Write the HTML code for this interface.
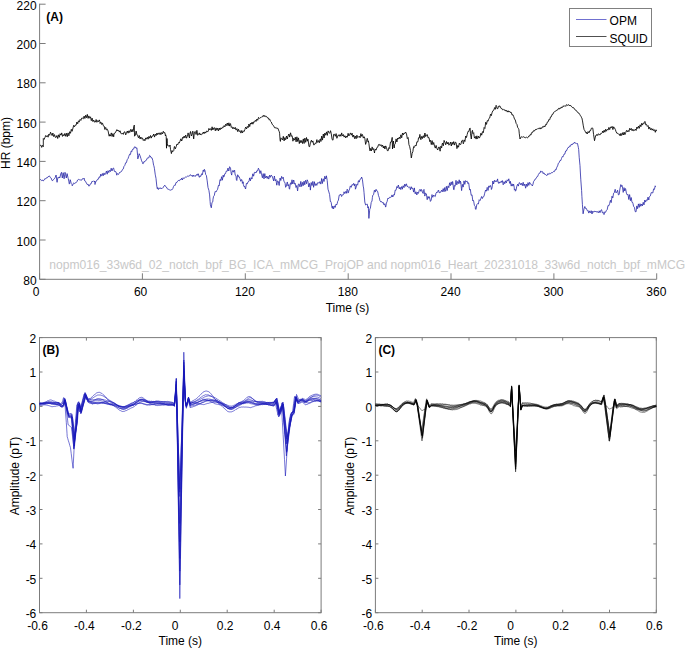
<!DOCTYPE html>
<html><head><meta charset="utf-8"><style>
html,body{margin:0;padding:0;background:#fff;}
svg{display:block;font-family:"Liberation Sans", sans-serif;}
</style></head><body>
<svg width="685" height="648" viewBox="0 0 685 648">
<rect width="685" height="648" fill="#fff"/>
<path d="M39.6 3.7V279.3H656.7" fill="none" stroke="#7c7c7c" stroke-width="1"/>
<text x="36.6" y="284.8" font-size="12" text-anchor="end" font-weight="normal" fill="#000" >80</text>
<text x="36.6" y="245.5" font-size="12" text-anchor="end" font-weight="normal" fill="#000" >100</text>
<text x="36.6" y="206.2" font-size="12" text-anchor="end" font-weight="normal" fill="#000" >120</text>
<text x="36.6" y="166.9" font-size="12" text-anchor="end" font-weight="normal" fill="#000" >140</text>
<text x="36.6" y="127.6" font-size="12" text-anchor="end" font-weight="normal" fill="#000" >160</text>
<text x="36.6" y="88.3" font-size="12" text-anchor="end" font-weight="normal" fill="#000" >180</text>
<text x="36.6" y="49.0" font-size="12" text-anchor="end" font-weight="normal" fill="#000" >200</text>
<text x="36.6" y="9.7" font-size="12" text-anchor="end" font-weight="normal" fill="#000" >220</text>
<text x="36.0" y="296.2" font-size="12" text-anchor="middle" font-weight="normal" fill="#000" >0</text>
<text x="140.6" y="296.2" font-size="12" text-anchor="middle" font-weight="normal" fill="#000" >60</text>
<text x="244.9" y="296.2" font-size="12" text-anchor="middle" font-weight="normal" fill="#000" >120</text>
<text x="347.8" y="296.2" font-size="12" text-anchor="middle" font-weight="normal" fill="#000" >180</text>
<text x="450.6" y="296.2" font-size="12" text-anchor="middle" font-weight="normal" fill="#000" >240</text>
<text x="553.5" y="296.2" font-size="12" text-anchor="middle" font-weight="normal" fill="#000" >300</text>
<text x="656.3" y="296.2" font-size="12" text-anchor="middle" font-weight="normal" fill="#000" >360</text>
<path d="M39.6 279.3h6M39.6 240.0h6M39.6 200.7h6M39.6 161.4h6M39.6 122.1h6M39.6 82.8h6M39.6 43.5h6M39.6 4.2h6M39.6 279.3v-6M142.4 279.3v-6M245.3 279.3v-6M348.2 279.3v-6M451.0 279.3v-6M553.9 279.3v-6M656.7 279.3v-6" stroke="#7c7c7c" stroke-width="1" fill="none"/>
<text x="347.5" y="311.5" font-size="12" text-anchor="middle" font-weight="normal" fill="#000" >Time (s)</text>
<text x="0" y="0" font-size="12" text-anchor="middle" font-weight="normal" fill="#000" transform="translate(10.2 143) rotate(-90)">HR (bpm)</text>
<text x="46.3" y="20.8" font-size="12" text-anchor="start" font-weight="bold" fill="#000" >(A)</text>
<text x="49.3" y="269.2" font-size="12.1" text-anchor="start" font-weight="normal" fill="#c8c8c8" >nopm016_33w6d_02_notch_bpf_BG_ICA_mMCG_ProjOP and nopm016_Heart_20231018_33w6d_notch_bpf_mMCG</text>
<rect x="569.5" y="8.5" width="82" height="38" fill="#fff" stroke="#808080" stroke-width="1"/>
<path d="M576 19.5h30.5" stroke="#7070d0" stroke-width="1"/>
<path d="M576 36.5h30.5" stroke="#505050" stroke-width="1"/>
<text x="609.6" y="25.4" font-size="12" text-anchor="start" font-weight="normal" fill="#000" >OPM</text>
<text x="609.6" y="42.6" font-size="12" text-anchor="start" font-weight="normal" fill="#000" >SQUID</text>
<path d="M40.0 179.7L40.8 179.6 41.6 180.6 42.4 180.0 43.1 181.0 44.0 180.3 44.8 178.7 45.3 178.8 45.6 179.0 46.4 177.8 47.2 177.9 48.0 176.6 48.8 176.6 49.2 175.8 49.6 176.2 50.4 177.6 51.2 178.1 52.0 180.5 52.7 180.6 53.6 179.4 54.4 178.8 55.2 177.5 56.0 175.0 56.2 175.3 56.8 180.9 57.1 182.3 57.6 179.0 58.0 177.5 58.4 178.1 59.2 176.9 59.7 178.0 60.0 177.2 60.8 173.6 61.5 172.3 62.3 178.0 63.2 172.7 64.1 178.8 64.8 174.1 65.0 172.3 65.6 174.7 66.3 178.0 67.1 173.6 68.0 177.7 68.2 178.4 68.8 181.1 69.3 184.1 69.6 183.5 70.2 179.7 70.4 180.0 71.2 183.4 72.0 184.5 72.2 185.8 72.8 185.0 73.3 183.6 73.6 182.9 74.4 183.5 75.0 183.2 75.2 182.9 76.0 182.8 76.8 181.9 77.6 180.0 78.5 179.3 79.2 180.0 80.0 179.5 80.7 180.1 81.6 180.2 82.4 178.7 83.2 179.1 83.8 178.4 84.0 178.0 84.8 181.0 85.6 181.4 86.4 183.2 87.2 184.5 88.0 184.0 88.8 186.1 89.5 185.8 90.4 183.8 91.2 183.7 92.0 181.2 92.5 181.5 92.8 181.6 93.6 180.8 94.4 181.8 94.7 181.0 95.0 184.5 95.2 183.6 96.0 181.0 96.8 180.7 97.6 179.2 98.4 179.2 99.2 176.8 100.0 177.4 100.8 174.1 101.1 175.6 101.6 176.1 102.4 173.5 103.2 175.8 104.0 172.9 104.8 174.8 105.7 173.3 106.4 171.1 107.2 174.2 108.0 170.7 108.8 172.6 109.2 170.9 109.6 170.3 110.4 171.6 111.2 168.2 112.0 171.0 112.7 168.6 113.6 168.0 114.4 171.4 115.1 171.5 116.0 171.8 116.8 175.2 117.0 174.1 117.6 173.6 118.4 174.5 119.3 173.0 120.0 172.0 120.8 172.1 121.7 171.2 122.4 169.6 123.2 169.1 124.0 166.3 124.8 165.4 125.2 164.2 125.6 162.8 126.4 162.7 127.2 159.7 128.0 158.7 128.7 156.6 129.6 154.2 130.4 154.6 131.2 151.0 132.0 151.6 132.2 150.2 132.8 149.1 133.6 149.1 134.4 147.0 135.1 146.7 136.0 148.3 136.9 147.8 137.6 155.3 137.8 158.9 138.4 157.0 139.2 153.7 140.0 155.6 140.9 158.4 141.6 160.8 142.4 162.4 142.7 163.6 143.2 163.7 144.0 161.5 144.8 161.9 145.0 161.3 145.6 160.5 146.4 160.2 147.2 158.2 148.0 157.8 148.8 157.9 149.6 155.4 150.3 156.0 151.2 157.8 152.0 157.8 152.8 160.5 153.6 165.3 153.8 165.4 154.4 168.3 155.2 174.2 155.5 175.9 156.0 178.4 156.8 186.1 157.3 188.7 157.6 187.6 158.4 189.5 159.2 187.8 160.0 188.7 160.2 188.1 160.8 187.9 161.6 188.9 162.4 187.9 162.6 188.1 163.2 187.5 164.0 186.0 164.9 185.2 165.6 186.6 166.4 187.0 167.2 188.7 168.0 189.3 168.8 189.4 169.6 189.9 170.4 190.2 171.2 189.7 171.9 189.9 172.8 188.6 173.6 186.4 174.4 185.2 175.2 185.4 176.0 182.5 176.8 182.5 177.7 181.1 178.4 180.4 179.2 180.9 180.0 179.5 180.8 179.8 181.2 179.4 181.6 178.2 182.4 180.0 183.2 177.7 184.0 178.6 184.7 177.6 185.6 177.0 186.4 177.1 187.1 176.5 188.0 175.7 188.8 176.4 189.7 175.7 190.4 174.6 191.2 175.9 192.0 175.4 192.6 175.5 192.8 176.7 193.6 175.1 194.4 176.3 195.2 175.5 195.5 176.3 196.0 175.9 196.8 174.3 197.6 175.3 197.8 173.9 198.4 173.9 199.2 177.3 199.6 177.1 200.0 175.8 200.8 176.4 201.6 173.8 201.9 173.9 202.4 174.7 203.2 170.1 204.0 171.6 204.3 169.3 204.8 170.0 205.4 172.8 205.6 174.4 206.4 175.5 207.2 180.9 208.0 187.5 208.9 190.3 209.6 194.9 210.1 201.4 210.4 204.8 211.3 207.8 212.0 202.4 212.8 201.8 213.0 199.1 213.6 196.3 214.4 195.3 214.8 192.6 215.2 191.4 216.0 192.1 216.5 191.5 216.8 190.4 217.6 189.3 218.4 185.6 218.9 185.0 219.2 185.7 220.0 179.5 220.6 179.8 220.8 180.7 221.6 176.7 222.4 180.2 223.2 175.1 223.5 176.9 224.0 176.9 224.8 173.7 225.6 173.5 225.9 172.2 226.4 171.0 227.2 171.2 228.0 168.1 228.2 169.3 228.8 171.0 229.6 166.7 230.5 168.1 231.2 173.4 231.7 175.1 232.0 172.4 232.9 170.4 233.6 172.2 234.4 170.0 234.6 170.4 235.2 175.1 236.0 175.7 236.4 179.8 236.8 180.5 237.6 174.8 238.1 175.1 238.4 176.8 239.2 176.7 239.9 178.6 240.8 181.3 241.6 179.5 242.2 181.0 242.4 183.4 243.2 181.8 243.4 184.5 244.0 186.7 244.8 186.4 245.1 188.0 245.6 189.0 246.4 183.4 246.9 183.9 247.2 184.0 248.0 181.8 248.8 181.5 249.2 180.4 249.6 177.9 250.4 180.8 251.2 177.6 252.0 179.0 252.2 176.9 252.8 173.8 253.6 176.2 254.4 172.4 255.1 172.2 256.0 173.0 256.8 170.8 257.6 171.0 258.4 168.2 259.2 169.9 260.0 173.6 260.8 170.7 261.5 173.9 262.4 177.8 263.2 173.6 264.0 178.9 264.8 173.6 265.3 176.9 265.6 177.9 266.4 176.0 267.2 178.5 268.0 176.3 268.2 177.4 268.8 179.1 269.6 175.2 270.4 177.3 271.1 175.1 272.0 175.9 272.8 178.0 273.6 180.9 274.4 176.0 274.6 177.4 275.2 180.9 276.0 179.4 276.4 182.7 276.8 185.2 277.5 180.9 278.4 181.5 278.7 183.9 279.2 185.5 280.0 178.0 280.4 178.6 280.8 180.5 281.6 176.4 282.4 178.5 282.8 178.0 283.2 177.2 284.0 181.7 284.8 182.3 285.1 183.3 285.6 187.3 286.3 186.2 287.2 182.0 287.4 182.1 288.0 186.0 288.8 184.5 289.2 188.5 289.6 189.2 290.4 183.1 290.9 182.7 291.2 184.4 292.0 179.8 292.8 184.0 293.6 180.0 293.9 180.4 294.4 184.0 295.0 183.9 295.2 183.3 296.0 187.5 296.8 185.5 297.4 189.7 297.6 190.9 298.4 184.2 299.1 183.9 300.0 186.9 300.8 181.4 301.6 186.5 302.0 185.0 302.4 182.4 303.2 185.7 304.0 181.2 304.8 184.8 305.0 182.1 305.6 180.3 306.4 183.8 307.2 179.8 307.9 181.5 308.8 187.0 309.6 183.4 310.2 187.4 310.4 190.1 311.2 182.5 312.0 185.5 312.6 183.3 312.8 181.4 313.6 187.3 314.4 181.7 314.9 185.0 315.2 185.6 316.0 183.6 316.8 185.4 317.6 182.7 318.4 182.7 319.2 183.4 320.0 181.5 320.8 184.1 321.3 181.5 321.6 178.5 322.4 183.5 323.2 178.8 323.6 179.2 324.0 181.5 324.8 176.2 325.6 179.0 326.0 178.0 326.4 175.8 327.2 180.4 328.0 189.2 328.9 192.0 329.6 194.6 330.4 201.7 330.7 201.4 331.2 202.5 332.0 207.8 332.4 208.4 332.8 206.0 333.6 208.9 334.4 205.9 334.7 206.1 335.0 206.7 335.2 207.4 336.0 204.1 336.8 204.8 337.3 203.2 337.6 201.6 338.4 200.2 339.2 195.2 339.7 195.0 340.0 195.3 340.8 194.1 341.6 196.5 342.0 195.6 342.4 194.9 343.2 194.9 343.8 193.3 344.0 191.8 344.8 193.6 345.6 191.6 346.1 191.5 346.4 193.3 347.2 189.2 347.8 190.4 348.0 193.1 348.4 192.7 348.8 190.9 349.6 189.1 350.2 186.3 350.4 185.9 351.2 187.3 352.0 184.5 352.8 185.1 353.1 184.5 353.6 183.4 354.4 185.9 354.9 183.9 355.2 185.4 355.4 189.2 356.0 187.8 356.6 185.1 356.8 184.3 357.6 185.2 358.4 180.7 358.9 181.0 359.2 182.1 360.0 179.3 360.8 179.0 361.3 178.1 361.6 177.0 362.4 179.3 363.2 186.1 363.6 188.0 364.0 192.3 364.8 202.0 365.6 205.0 366.5 204.4 367.2 204.0 368.0 208.0 368.3 206.7 368.9 218.4 369.6 210.8 369.8 209.1 370.4 208.1 371.2 202.5 372.0 201.0 372.4 197.4 372.8 195.2 373.6 194.6 374.4 190.1 374.7 190.4 375.2 192.1 376.0 189.3 376.5 189.8 376.8 191.0 377.6 191.3 378.2 193.9 378.4 195.3 379.2 197.4 380.0 200.9 380.8 201.9 381.6 201.5 382.4 202.9 382.9 202.6 383.2 202.3 384.0 204.9 384.8 203.7 385.6 207.1 385.8 206.7 386.4 203.1 387.2 201.3 387.6 199.1 388.0 198.0 388.8 198.6 389.6 197.3 390.5 197.4 391.2 197.1 392.0 194.9 392.8 197.0 393.6 194.7 394.0 195.0 394.4 195.0 395.2 190.1 396.0 190.3 396.3 189.2 396.8 186.6 397.6 187.7 398.1 185.7 398.4 185.0 399.2 188.9 399.8 188.0 400.0 187.2 400.8 189.6 401.0 188.6 401.6 186.6 402.4 189.2 402.7 186.9 403.2 185.7 404.0 187.7 404.8 184.0 405.6 186.3 406.2 184.5 406.4 183.8 407.2 186.5 408.0 186.4 408.6 187.4 408.8 187.8 409.6 187.1 410.0 187.4 410.4 189.8 411.2 186.7 412.0 188.7 412.3 188.0 412.8 188.1 413.6 192.1 414.4 187.9 414.7 190.9 415.2 193.8 416.0 191.8 416.8 195.0 417.0 194.4 417.6 192.2 418.4 193.4 419.3 190.3 420.0 189.3 420.8 191.3 421.1 189.7 421.6 189.6 422.3 192.0 423.2 193.5 423.4 190.3 424.0 189.4 424.6 194.4 424.8 196.1 425.6 193.1 426.4 193.8 427.2 199.7 427.5 197.9 428.0 196.4 428.8 198.3 429.3 196.7 429.6 197.7 430.4 201.4 431.2 200.1 432.0 194.6 432.2 195.5 432.8 197.3 433.6 195.0 434.5 196.1 435.2 196.6 436.0 193.2 436.9 192.0 437.6 192.3 438.4 190.0 438.6 190.3 439.2 192.8 439.8 192.6 440.0 192.0 440.8 192.2 441.6 190.1 442.1 190.9 442.4 191.7 443.2 188.6 444.0 191.8 444.8 187.5 445.0 189.7 445.6 191.3 446.4 186.3 447.2 190.6 448.0 185.9 448.5 186.8 448.8 187.7 449.6 182.8 450.4 185.7 451.2 181.9 451.5 183.9 452.0 184.8 452.6 181.5 452.8 182.2 453.6 189.5 454.1 189.7 454.4 185.5 455.2 186.2 455.5 182.7 456.0 180.3 456.8 184.9 457.6 181.5 457.9 182.1 458.4 183.6 459.2 179.8 460.0 183.6 460.2 181.0 460.8 182.3 461.4 188.5 461.6 190.6 462.4 184.4 463.2 187.1 463.7 183.3 464.0 180.9 464.8 184.4 465.6 180.6 466.1 181.0 466.4 181.6 467.2 181.2 468.0 183.7 468.4 182.7 468.8 183.7 469.6 190.1 470.4 189.3 470.7 192.0 471.2 195.3 472.0 194.8 472.8 200.9 473.1 200.2 473.6 200.8 474.4 205.4 475.2 206.3 475.4 209.0 476.0 209.5 476.8 204.4 477.7 203.7 478.4 204.0 479.2 199.7 480.0 200.6 480.7 199.1 481.6 196.5 482.4 198.5 483.2 196.6 483.6 196.7 484.0 196.2 484.7 193.2 485.6 190.0 486.4 191.2 487.2 187.4 487.7 188.5 488.0 190.5 488.8 185.9 489.6 187.3 490.3 185.4 491.2 187.5 491.4 189.5 492.0 188.0 492.6 183.0 492.8 181.0 493.6 184.0 494.4 180.3 495.2 181.9 495.5 181.3 496.0 180.6 496.8 181.7 497.6 178.9 497.8 180.7 498.4 183.0 499.0 183.6 499.2 181.9 500.0 182.9 500.8 181.5 501.4 181.3 501.6 182.3 502.4 180.6 503.2 184.8 503.7 183.6 504.0 181.7 504.8 183.7 505.6 180.8 506.0 181.9 506.4 182.8 507.2 179.8 508.0 180.9 508.4 180.1 508.8 178.8 509.6 183.2 510.1 183.6 510.4 181.3 511.2 186.1 512.0 183.8 512.4 184.2 512.8 186.1 513.6 184.1 514.2 187.1 514.4 190.1 515.2 189.3 515.4 191.2 516.0 190.2 516.8 186.2 517.7 184.2 518.4 186.1 519.2 182.7 520.0 183.0 520.8 184.9 521.6 183.3 522.4 185.6 523.2 182.3 523.5 184.8 524.0 185.8 524.8 184.0 525.6 188.2 525.9 187.1 526.4 184.1 527.2 186.5 528.0 182.6 528.2 183.0 528.8 185.4 529.6 182.3 530.4 184.0 531.1 184.2 532.0 185.5 532.3 186.0 532.8 184.9 533.6 181.5 534.0 180.7 534.4 180.6 535.2 179.0 536.0 178.7 536.4 177.8 536.8 176.8 537.6 176.6 538.4 174.5 539.3 173.1 540.0 173.1 540.8 170.9 541.1 171.4 541.6 172.0 542.4 171.5 543.2 173.6 543.4 173.1 544.0 172.8 544.8 174.5 545.6 174.5 546.3 175.4 547.2 175.3 548.0 173.5 548.8 174.5 549.2 173.7 549.6 173.2 550.4 173.7 551.2 172.7 552.0 172.9 552.7 172.5 553.6 171.4 554.4 171.6 555.2 169.7 556.0 170.0 556.2 169.0 556.8 167.3 557.6 165.9 558.4 163.2 558.6 163.2 559.2 162.5 560.0 160.5 560.8 160.5 561.5 158.5 562.4 156.4 563.2 156.7 563.6 155.4 564.0 154.1 564.8 154.1 565.6 151.0 566.4 151.0 567.3 148.9 568.0 147.5 568.8 147.5 569.6 145.9 570.4 146.3 571.2 144.3 571.7 144.5 572.0 145.0 572.8 143.6 573.6 143.6 574.4 142.3 574.6 143.0 575.2 143.3 576.0 142.8 576.8 143.7 577.5 143.5 578.4 147.7 578.7 149.6 579.2 157.2 580.0 165.7 580.4 173.0 580.8 179.8 581.6 190.4 581.9 196.3 582.4 204.3 583.1 213.8 584.0 208.9 584.8 206.5 585.6 208.5 586.4 208.5 587.2 210.6 587.7 210.9 588.0 210.5 588.8 213.1 589.6 210.9 590.4 212.8 590.7 212.4 591.2 210.7 592.0 214.0 592.8 211.1 593.6 212.3 594.4 211.2 595.0 211.6 595.2 212.0 596.0 211.1 596.8 212.3 597.6 211.6 598.4 212.9 598.7 212.4 599.2 210.8 600.0 212.7 600.9 210.2 601.6 209.7 602.4 212.9 603.2 212.2 603.8 213.8 604.0 214.6 604.8 211.8 605.6 212.3 606.4 210.3 606.7 210.2 607.2 209.7 608.0 205.5 608.8 205.8 609.6 203.6 610.4 200.3 611.2 202.6 612.0 196.2 612.6 197.8 612.8 198.0 613.6 193.2 614.4 192.6 614.7 190.5 615.2 189.3 616.0 192.9 616.9 191.9 617.6 190.2 618.4 194.9 619.2 194.5 619.9 189.0 620.8 184.6 621.6 186.5 622.0 185.4 622.4 186.5 623.2 192.4 623.5 191.2 624.0 187.6 624.8 191.0 625.0 189.0 625.6 188.6 626.4 193.1 627.2 194.9 628.0 194.3 628.8 199.5 629.6 194.6 630.1 197.8 630.4 200.7 631.2 197.5 632.0 202.4 632.8 202.7 633.0 203.6 633.6 206.4 634.4 207.2 635.2 211.6 636.0 211.9 636.8 205.9 637.6 208.7 638.1 205.8 638.4 203.9 639.2 207.4 640.0 203.7 640.8 206.3 641.6 204.0 641.8 204.3 642.4 205.9 643.2 202.3 644.0 204.9 644.8 200.0 645.6 202.1 646.1 200.7 646.4 199.9 647.2 200.5 648.0 197.1 648.8 200.0 649.1 197.8 649.6 196.4 650.4 195.9 651.2 192.6 652.0 192.7 652.8 193.0 653.6 188.9 654.4 189.5 655.2 185.8 655.6 186.8" fill="none" stroke="#2626a6" stroke-width="0.8" stroke-linejoin="round"/>
<path d="M40.1 145.5L40.9 145.1 41.7 147.4 42.5 145.4 43.3 146.7 43.3 138.5 44.1 139.4 45.0 137.4 45.7 135.5 46.5 136.7 47.3 135.6 48.1 137.2 48.5 135.0 48.9 134.1 49.7 135.3 50.5 132.2 51.4 134.1 52.1 135.6 52.9 133.0 53.2 135.0 53.7 136.6 54.5 134.6 55.3 137.3 56.1 137.4 56.9 135.5 57.7 138.5 58.5 134.8 59.3 137.3 60.1 133.7 60.9 135.1 61.4 134.5 61.7 132.9 62.5 136.4 63.3 134.6 63.7 135.6 64.1 135.8 64.9 133.4 65.7 136.3 66.5 133.3 67.3 136.7 68.1 132.9 68.4 134.5 68.9 135.8 69.7 131.7 70.1 132.1 70.5 133.3 71.3 129.3 72.1 131.3 73.0 128.0 73.7 125.3 74.5 126.8 75.3 125.1 76.1 125.2 76.9 122.0 77.7 123.8 78.5 120.8 78.9 121.6 79.3 121.9 80.1 119.4 80.9 120.4 81.7 118.1 82.4 118.1 83.3 118.8 84.1 116.1 84.9 118.5 85.7 115.2 86.5 117.7 87.0 115.8 87.3 114.4 88.1 118.4 88.9 115.9 89.4 117.5 89.7 118.2 90.5 116.8 91.3 120.7 91.7 119.3 92.1 118.1 92.9 121.6 93.7 120.0 94.6 122.2 95.3 122.0 95.8 121.0 96.1 119.5 96.9 122.3 97.7 120.6 98.5 121.7 99.3 119.9 99.9 121.6 100.1 123.5 100.9 122.1 101.7 124.5 102.2 123.4 102.5 123.1 103.3 125.7 104.1 126.0 104.9 129.5 105.2 128.6 105.7 127.4 106.5 129.9 107.3 129.2 108.1 131.0 108.9 135.0 109.2 136.2 109.7 134.5 110.5 136.1 111.3 132.9 111.6 134.5 112.1 136.5 112.9 133.6 113.7 136.8 113.9 134.8 114.5 133.1 115.3 132.8 116.2 131.0 116.9 129.6 117.7 131.0 118.5 130.1 118.8 130.6 119.3 132.1 120.1 130.8 120.9 133.5 121.7 133.9 122.5 133.0 123.3 134.4 124.0 132.1 124.9 131.8 125.7 134.9 126.4 133.3 127.3 131.0 128.1 133.2 128.9 130.8 129.7 132.5 130.5 129.5 131.0 130.6 131.3 131.8 132.1 129.3 132.9 131.8 133.4 130.4 133.7 126.7 134.3 125.1 134.5 136.2 135.3 135.2 136.1 131.0 136.3 131.5 136.9 134.9 137.7 135.2 138.0 136.8 138.5 137.8 139.3 135.5 140.1 139.0 140.9 137.0 141.5 138.5 141.7 138.8 142.5 138.0 143.3 140.5 144.1 139.3 144.5 139.7 144.9 140.8 145.7 137.9 146.5 139.2 147.3 137.2 148.1 139.2 148.5 138.0 148.9 136.4 149.7 138.2 150.5 135.5 151.3 138.1 152.1 135.9 152.9 136.1 153.2 135.6 153.7 134.0 154.5 137.1 155.3 134.2 156.1 135.6 156.9 133.0 157.7 134.7 157.9 133.9 158.5 132.9 159.3 134.4 160.1 132.7 160.9 134.7 161.4 133.3 161.7 132.5 162.5 134.0 163.3 131.3 164.1 133.0 164.9 132.6 165.4 135.8 165.7 134.8 166.2 136.4 166.5 148.2 167.0 138.5 167.3 143.5 167.6 145.5 168.1 145.2 168.9 146.6 169.7 146.0 170.0 145.0 170.5 149.3 171.4 153.6 172.1 150.5 172.4 151.5 172.9 151.7 173.8 150.4 174.3 146.6 174.5 146.5 175.1 148.2 175.3 148.9 176.2 146.6 176.9 144.1 177.7 144.9 178.5 142.6 179.3 143.0 180.0 141.2 180.9 138.8 181.7 141.0 182.2 139.6 182.5 137.4 183.3 138.2 183.8 136.9 184.1 136.0 184.9 137.9 185.4 136.4 185.7 135.1 186.5 138.2 187.3 136.4 187.6 134.4 188.1 132.9 188.5 133.9 188.9 136.4 189.5 138.0 189.7 134.4 190.5 131.5 191.4 136.0 192.1 134.1 192.4 131.8 192.9 131.1 193.4 137.0 193.7 138.9 194.4 132.1 195.3 131.5 195.5 132.7 196.1 134.5 196.9 130.3 197.7 135.3 198.4 134.5 199.3 132.9 200.1 135.0 200.9 133.7 201.7 134.7 202.5 133.9 203.3 132.0 204.1 133.7 204.9 131.9 205.7 133.1 206.5 131.0 207.2 131.5 208.1 131.6 208.9 128.4 209.7 129.8 210.1 129.0 210.5 128.7 211.3 130.4 212.1 126.8 212.9 130.0 213.6 128.0 214.5 127.7 215.3 130.8 216.1 127.9 216.5 129.8 216.9 130.3 217.7 128.2 218.5 130.9 219.3 128.0 219.5 129.2 220.1 129.9 220.9 127.8 221.7 128.8 222.5 127.1 223.3 127.5 223.5 127.1 224.1 125.6 224.9 126.9 225.7 124.2 226.5 125.5 227.3 123.0 227.6 124.5 228.1 125.8 228.9 122.8 229.7 126.1 230.0 124.5 230.5 123.6 231.3 127.4 231.7 126.9 232.1 126.9 232.9 128.9 233.7 127.4 234.5 128.9 235.3 127.4 236.1 130.1 236.4 129.2 236.9 128.6 237.7 131.6 238.5 129.2 239.3 131.6 240.1 130.7 240.5 131.5 240.9 133.1 241.7 130.5 242.5 132.9 243.3 130.8 244.0 131.5 244.9 129.6 245.1 128.6 245.7 127.1 246.5 129.0 247.3 126.4 248.1 127.7 248.6 125.9 248.9 124.0 249.7 126.6 250.5 123.0 251.3 124.1 252.1 122.1 252.9 124.2 253.7 121.8 254.5 122.1 255.1 121.0 255.3 120.3 256.1 121.4 256.9 119.0 257.7 120.3 258.5 117.4 259.3 118.5 259.7 118.1 260.1 117.7 260.9 117.7 261.7 116.8 262.5 116.8 263.3 115.3 264.1 116.7 264.7 115.5 264.9 115.5 265.7 116.7 266.5 116.4 267.0 117.1 267.3 117.8 268.1 117.7 268.9 119.6 269.7 119.0 269.9 119.8 270.5 121.3 271.3 122.0 272.1 124.1 272.8 125.0 273.7 125.9 274.5 127.7 275.2 128.0 276.1 127.4 276.9 128.7 277.7 128.3 278.1 128.5 278.5 130.0 279.3 131.8 279.6 133.2 280.1 140.3 280.4 141.4 280.9 137.8 281.6 138.5 282.5 140.0 283.3 136.3 284.1 140.9 284.9 137.6 285.1 139.1 285.7 139.8 286.5 136.0 287.3 139.0 288.0 136.1 288.9 134.0 289.7 137.1 290.5 132.8 290.9 134.1 291.3 136.2 292.1 135.7 292.7 139.1 292.9 141.2 293.7 138.3 294.5 140.1 295.0 138.5 295.3 137.2 296.1 141.9 296.9 136.8 297.7 141.5 298.5 137.9 299.3 143.6 299.7 141.4 300.1 140.3 300.9 142.8 301.7 140.5 302.5 143.5 303.3 138.9 304.1 143.5 304.4 140.8 304.9 138.1 305.7 142.3 306.5 137.5 307.3 141.2 307.9 139.1 308.1 139.9 309.0 146.6 309.7 146.6 310.5 142.3 311.4 140.2 312.1 142.3 312.9 140.9 313.7 144.9 314.5 144.7 315.3 143.0 316.1 143.5 316.9 139.6 317.2 142.0 317.7 142.4 318.5 140.6 319.3 142.8 320.1 139.0 320.7 139.1 320.9 141.5 321.7 136.1 322.5 140.1 323.3 134.0 324.1 138.0 324.9 133.0 325.4 135.0 325.7 135.2 326.5 131.9 327.3 135.4 328.1 130.9 328.9 132.6 329.7 133.4 330.5 130.7 331.2 133.2 332.1 139.5 333.0 140.2 333.6 134.4 334.5 134.3 335.3 136.3 336.1 133.6 336.9 138.3 337.7 136.1 338.5 134.8 339.3 136.3 340.1 134.5 340.9 136.3 341.7 132.9 342.0 134.5 342.5 135.9 343.3 134.5 344.1 137.1 344.9 135.7 345.5 137.1 345.7 138.0 346.5 136.1 347.3 137.2 348.1 133.3 348.9 136.0 349.6 134.5 350.5 132.9 351.3 135.2 352.1 133.2 352.5 134.8 352.9 137.1 353.7 135.0 354.3 137.4 354.5 138.6 355.3 136.1 356.1 138.8 356.9 135.2 357.7 137.7 358.4 137.1 359.3 136.2 360.1 137.8 360.9 133.6 361.7 136.4 361.9 135.0 362.5 134.5 363.3 138.1 364.1 136.7 364.8 138.0 365.6 144.4 366.5 141.6 367.1 138.5 367.3 138.3 368.1 141.9 368.3 140.9 368.9 143.6 369.7 149.7 370.0 150.8 370.5 148.5 371.3 151.0 372.1 146.9 372.4 147.3 372.9 149.8 373.7 148.6 374.5 153.0 374.7 151.4 375.3 149.1 376.1 150.1 376.9 147.5 377.7 147.2 378.5 144.6 379.4 144.4 380.1 145.7 380.9 144.6 381.7 146.5 382.5 145.0 382.9 146.1 383.3 148.0 384.1 146.0 384.9 149.0 385.7 145.9 386.4 147.3 387.3 150.6 388.1 150.8 388.9 147.6 389.7 148.5 389.9 146.1 390.5 142.0 391.3 142.1 392.2 137.4 392.5 149.0 392.9 144.6 393.5 141.0 393.7 144.6 394.2 148.0 394.5 144.7 395.3 143.8 395.7 140.9 396.1 138.9 396.9 142.0 397.7 138.0 398.5 139.1 399.3 137.1 400.1 138.7 400.4 136.8 400.9 134.8 401.7 137.8 402.5 133.0 403.3 134.9 404.1 132.9 404.9 133.5 405.7 132.1 406.5 133.9 407.3 138.6 408.1 137.5 408.6 140.9 408.9 144.5 409.7 146.7 410.5 150.6 411.3 158.0 411.5 157.2 412.1 153.5 412.9 151.5 413.2 149.0 413.7 146.5 414.5 147.3 414.7 146.6 415.3 145.1 416.1 145.9 416.9 141.8 417.7 142.0 418.2 140.2 418.5 137.8 419.3 138.0 419.9 134.4 420.1 135.6 420.5 139.0 420.9 139.7 421.7 136.4 422.5 138.5 422.8 136.7 423.3 135.7 424.1 137.8 424.9 133.0 425.7 136.6 426.4 135.0 427.3 134.6 428.1 137.9 428.9 137.5 429.3 139.0 429.7 141.6 430.5 140.3 431.3 144.6 431.6 142.6 432.1 140.6 432.9 144.7 433.7 142.5 434.5 146.1 435.3 148.1 436.1 145.4 436.9 148.4 437.7 150.0 438.6 147.2 439.3 147.1 440.1 151.2 440.4 149.6 440.9 146.1 441.7 147.9 442.1 144.3 442.5 143.1 443.3 145.8 444.1 140.4 445.0 142.6 445.7 144.8 446.5 141.5 447.3 144.0 448.1 142.2 448.9 145.2 449.7 144.3 450.5 142.1 451.3 146.0 452.1 142.2 452.9 144.5 453.2 143.7 453.7 141.6 454.5 145.1 455.3 142.2 456.1 142.6 456.9 148.6 457.3 147.8 457.7 145.5 458.5 147.2 459.3 143.2 460.2 144.9 460.9 144.2 461.7 140.8 462.6 140.2 463.3 143.8 463.7 142.6 464.1 139.9 464.9 141.5 465.7 136.0 466.5 137.5 467.2 134.4 468.1 131.3 468.9 131.4 469.7 128.4 470.1 128.0 470.5 133.8 471.3 139.0 472.1 131.0 472.5 130.3 472.9 133.5 473.7 132.7 474.2 136.7 474.5 138.1 475.3 136.4 476.1 139.1 476.9 135.8 477.2 138.5 477.7 138.6 478.5 136.1 479.3 138.1 480.1 136.7 480.9 133.2 481.7 135.2 482.5 131.6 483.3 132.7 483.6 130.9 484.1 127.5 484.9 128.5 485.7 122.2 485.9 122.7 486.5 124.4 487.3 120.6 488.1 121.2 488.5 119.8 488.9 118.5 489.7 118.0 490.5 114.2 491.3 115.7 492.0 112.8 492.9 110.7 493.7 110.3 494.3 108.7 494.5 107.6 495.3 109.3 496.1 105.3 496.7 106.4 496.9 108.4 497.8 108.7 498.5 106.3 499.3 106.7 499.6 105.8 500.1 106.2 500.9 108.1 501.4 108.7 501.7 108.3 502.5 109.8 503.3 109.4 504.1 110.3 504.9 109.7 505.7 111.0 506.0 111.0 506.5 110.4 507.3 112.1 508.1 110.7 508.9 112.1 509.7 111.4 510.5 112.7 510.7 112.2 511.3 112.4 512.1 115.1 512.9 114.7 513.6 116.3 514.5 119.0 515.3 120.0 516.1 123.3 516.5 123.9 516.9 124.3 517.7 127.5 518.5 128.6 518.9 129.7 519.3 133.8 520.0 139.0 520.9 137.2 521.8 136.7 522.5 137.3 523.3 136.5 524.1 137.6 524.7 137.3 524.9 137.1 525.7 137.8 526.5 137.2 527.3 137.8 528.2 137.3 528.9 135.9 529.7 136.0 530.5 134.1 531.3 134.5 531.7 133.2 532.1 132.0 532.9 132.2 533.7 130.5 534.5 131.0 535.2 129.7 536.1 129.3 536.9 129.5 537.7 128.6 538.5 128.7 538.7 128.5 539.3 127.8 540.1 129.1 540.9 127.7 541.1 128.0 541.7 128.5 542.5 126.7 543.3 127.2 544.1 125.9 544.9 126.9 545.1 126.2 545.7 124.4 546.5 124.7 547.3 122.1 548.1 121.9 548.9 119.5 549.2 119.8 549.7 119.8 550.5 116.9 551.3 116.8 552.1 114.4 552.9 114.3 553.7 112.3 553.9 112.2 554.5 111.9 555.3 111.1 556.1 110.9 556.9 109.9 557.7 110.0 558.0 109.3 558.5 108.4 559.3 109.1 560.1 107.7 560.9 108.4 561.7 107.0 562.5 107.4 563.3 105.8 563.6 106.3 564.1 106.5 564.9 105.6 565.7 106.4 566.5 104.6 567.3 105.4 568.0 104.8 568.9 104.8 569.7 106.0 570.5 105.2 571.0 106.0 571.3 106.5 572.1 106.9 572.9 107.9 573.7 107.7 574.6 109.2 575.3 110.1 576.1 110.2 576.9 111.7 577.7 112.0 578.5 113.3 579.3 113.5 579.7 114.3 580.1 115.2 580.9 116.2 581.7 117.8 581.9 118.0 582.5 120.9 583.3 125.9 584.1 129.6 584.9 130.8 585.7 132.5 586.3 133.3 586.5 132.3 587.3 133.9 588.1 131.5 588.9 132.9 589.2 132.6 589.7 130.8 590.5 130.8 591.4 128.2 592.1 128.0 592.8 128.2 593.6 134.7 594.5 140.7 594.7 139.9 595.3 137.0 595.8 135.5 596.1 135.8 596.9 134.3 597.7 135.5 598.5 133.7 599.4 134.7 600.1 134.9 600.9 133.2 601.7 133.3 602.3 132.6 602.5 131.1 603.3 132.7 604.1 130.2 604.9 132.2 605.7 129.2 606.5 131.2 606.7 130.4 607.3 129.4 608.1 130.1 608.9 127.4 609.7 129.6 610.5 127.1 611.1 127.4 611.3 127.8 612.1 126.3 612.9 129.6 613.7 126.8 614.5 128.3 614.7 128.2 615.3 129.4 616.1 131.8 616.9 133.3 617.7 133.2 618.5 134.2 619.3 134.1 620.1 135.9 620.9 133.4 621.3 135.2 621.7 135.5 622.5 132.7 623.3 135.0 624.1 132.1 624.9 134.7 625.7 132.6 626.5 130.4 627.3 131.8 628.1 130.4 628.9 131.7 629.7 128.3 630.5 129.9 631.3 128.4 631.5 128.9 632.1 130.8 632.9 129.2 633.7 130.8 634.5 130.4 635.3 129.1 636.1 130.5 636.9 127.0 637.7 128.5 638.5 126.1 639.3 128.3 639.6 126.7 640.1 124.8 640.9 126.7 641.7 123.3 642.5 125.1 643.3 122.9 644.1 123.6 644.7 122.6 644.9 121.4 645.7 124.8 646.5 124.3 647.3 126.4 648.1 125.6 648.9 129.1 649.1 128.2 649.7 127.2 650.5 129.7 651.3 128.4 652.1 130.2 652.9 128.8 653.4 130.4 653.7 130.7 654.5 129.7 655.3 132.3 656.1 129.8 656.4 131.1" fill="none" stroke="#000" stroke-width="0.85" stroke-linejoin="round"/>
<rect x="39.5" y="337.6" width="281.6" height="275.1" fill="none" stroke="#7c7c7c" stroke-width="1"/>
<text x="36.3" y="618.0" font-size="12" text-anchor="end" font-weight="normal" fill="#000" >-6</text>
<text x="36.3" y="583.6" font-size="12" text-anchor="end" font-weight="normal" fill="#000" >-5</text>
<text x="36.3" y="549.2" font-size="12" text-anchor="end" font-weight="normal" fill="#000" >-4</text>
<text x="36.3" y="514.8" font-size="12" text-anchor="end" font-weight="normal" fill="#000" >-3</text>
<text x="36.3" y="480.5" font-size="12" text-anchor="end" font-weight="normal" fill="#000" >-2</text>
<text x="36.3" y="446.1" font-size="12" text-anchor="end" font-weight="normal" fill="#000" >-1</text>
<text x="36.3" y="411.7" font-size="12" text-anchor="end" font-weight="normal" fill="#000" >0</text>
<text x="36.3" y="377.3" font-size="12" text-anchor="end" font-weight="normal" fill="#000" >1</text>
<text x="36.3" y="342.9" font-size="12" text-anchor="end" font-weight="normal" fill="#000" >2</text>
<text x="37.5" y="630.0" font-size="12" text-anchor="middle" font-weight="normal" fill="#000" >-0.6</text>
<text x="84.4" y="630.0" font-size="12" text-anchor="middle" font-weight="normal" fill="#000" >-0.4</text>
<text x="131.4" y="630.0" font-size="12" text-anchor="middle" font-weight="normal" fill="#000" >-0.2</text>
<text x="175.0" y="630.0" font-size="12" text-anchor="middle" font-weight="normal" fill="#000" >0</text>
<text x="225.2" y="630.0" font-size="12" text-anchor="middle" font-weight="normal" fill="#000" >0.2</text>
<text x="272.2" y="630.0" font-size="12" text-anchor="middle" font-weight="normal" fill="#000" >0.4</text>
<text x="319.1" y="630.0" font-size="12" text-anchor="middle" font-weight="normal" fill="#000" >0.6</text>
<path d="M39.5 612.7h3M321.1 612.7h-3M39.5 578.3h3M321.1 578.3h-3M39.5 543.9h3M321.1 543.9h-3M39.5 509.5h3M321.1 509.5h-3M39.5 475.2h3M321.1 475.2h-3M39.5 440.8h3M321.1 440.8h-3M39.5 406.4h3M321.1 406.4h-3M39.5 372.0h3M321.1 372.0h-3M39.5 337.6h3M321.1 337.6h-3M39.5 612.7v-3M39.5 337.6v3M86.4 612.7v-3M86.4 337.6v3M133.4 612.7v-3M133.4 337.6v3M180.3 612.7v-3M180.3 337.6v3M227.2 612.7v-3M227.2 337.6v3M274.2 612.7v-3M274.2 337.6v3M321.1 612.7v-3M321.1 337.6v3" stroke="#7c7c7c" stroke-width="1" fill="none"/>
<text x="180.3" y="644.5" font-size="12" text-anchor="middle" font-weight="normal" fill="#000" >Time (s)</text>
<text x="0" y="0" font-size="12" text-anchor="middle" font-weight="normal" fill="#000" transform="translate(18.5 476) rotate(-90)">Amplitude (pT)</text>
<text x="42.5" y="354.2" font-size="12" text-anchor="start" font-weight="bold" fill="#000" >(B)</text>
<path d="M39.5 403.9L40.2 403.9 40.9 403.7 41.6 403.7 42.3 403.5 43.0 403.4 43.7 403.3 44.4 403.2 45.1 403.0 45.8 402.9 46.5 402.8 47.2 402.4 47.9 402.3 48.7 402.3 49.4 402.3 50.1 402.5 50.8 402.5 51.5 402.6 52.2 402.6 52.9 402.5 53.6 402.6 54.3 402.5 55.0 402.6 55.7 402.4 56.4 402.4 57.1 402.5 57.8 402.4 57.8 402.2 58.5 402.9 59.2 403.2 59.9 403.9 60.2 404.2 60.6 403.7 61.3 403.2 62.0 402.8 62.0 402.9 62.7 400.5 63.4 398.2 63.7 397.5 64.1 400.1 64.8 403.6 65.1 404.8 65.5 412.0 66.3 422.4 67.0 433.3 67.2 436.7 67.7 438.3 68.4 440.8 69.1 442.9 69.8 445.5 70.5 447.7 70.5 447.8 71.2 453.4 71.9 459.1 72.6 464.8 73.1 468.3 73.3 463.8 74.0 450.3 74.7 436.4 75.4 422.7 75.4 422.7 76.1 413.9 76.8 405.4 76.8 405.5 77.5 404.2 78.0 403.7 78.2 404.9 78.9 408.2 79.6 411.8 79.6 411.8 80.3 409.1 81.0 406.3 81.7 403.4 82.4 400.7 83.1 397.8 83.9 395.0 84.1 394.0 84.6 394.9 85.3 396.5 86.0 397.9 86.7 399.2 86.7 399.4 87.4 399.4 88.1 399.0 88.8 398.9 89.5 398.8 90.2 398.6 90.7 398.2 90.9 398.0 91.6 397.5 92.3 396.6 93.0 395.9 93.7 395.3 94.4 394.7 95.1 394.2 95.8 393.7 96.5 393.0 97.2 392.8 97.9 392.4 98.6 392.4 99.3 392.3 100.0 392.5 100.7 392.9 101.5 393.3 102.2 393.6 102.9 394.4 103.6 395.0 104.3 395.6 105.0 396.2 105.7 397.1 106.4 398.0 107.1 398.6 107.8 399.6 108.5 400.4 109.2 401.1 109.9 401.7 110.6 402.3 111.3 402.7 112.0 403.1 112.7 403.4 113.4 403.9 114.1 404.2 114.8 404.4 115.5 404.7 116.2 405.2 116.9 405.5 117.6 405.8 118.3 406.2 119.1 406.5 119.8 406.7 120.5 406.6 121.2 406.8 121.9 406.7 122.6 407.0 123.3 406.8 124.0 406.8 124.7 406.6 125.4 406.5 126.1 406.0 126.8 406.0 127.5 405.5 128.2 405.2 128.9 404.8 129.6 404.5 130.3 404.2 131.0 403.8 131.7 403.5 132.4 403.3 133.1 402.8 133.8 402.3 134.5 401.8 135.2 401.4 135.9 400.7 136.7 400.0 137.4 399.5 138.1 398.8 138.8 398.3 139.5 397.8 140.2 397.5 140.9 397.5 141.6 397.3 142.3 397.5 143.0 397.8 143.7 398.4 144.4 399.0 145.1 399.4 145.8 400.2 146.5 401.0 147.2 401.5 147.9 402.2 148.6 402.5 149.3 403.1 150.0 403.3 150.7 403.7 151.4 404.0 152.1 404.1 152.8 404.4 153.5 404.6 154.3 404.7 155.0 405.1 155.7 405.4 156.4 405.5 157.1 405.5 157.8 405.6 158.5 405.5 159.2 405.3 159.9 405.3 160.6 405.3 161.3 405.1 162.0 405.2 162.7 405.0 163.4 405.1 164.1 405.0 164.8 404.8 165.5 404.7 166.2 404.7 166.9 404.7 167.6 404.6 168.3 404.6 169.0 404.7 169.7 404.7 170.4 404.6 171.1 404.7 171.9 404.8 172.6 404.8 173.3 405.0 173.3 405.1 174.0 405.7 174.4 406.2 174.7 402.7 175.4 392.1 176.1 381.5 176.3 378.1 176.8 407.5 177.5 451.4 178.2 495.5 178.9 539.7 179.6 583.9 179.8 598.6 180.3 569.6 181.0 526.3 181.7 482.6 182.4 439.2 183.1 395.8 183.8 352.2 183.8 352.4 184.5 373.8 185.2 395.1 185.5 402.4 185.9 403.9 186.4 405.8 186.6 404.8 187.3 402.0 188.0 398.9 188.5 397.0 188.7 397.8 189.5 400.2 190.2 402.6 190.2 402.6 190.9 402.0 191.6 401.5 192.0 401.0 192.3 401.0 193.0 400.7 193.7 400.3 194.4 399.9 195.1 399.6 195.8 399.1 196.5 398.6 197.2 397.9 197.9 397.3 198.6 396.6 199.3 395.9 200.0 395.3 200.7 394.5 201.4 393.7 202.1 393.3 202.8 392.4 203.5 391.9 204.2 391.6 204.9 391.3 205.6 391.1 206.3 391.0 207.1 391.2 207.8 391.4 208.5 391.6 209.2 392.1 209.9 392.6 210.6 393.4 211.3 394.1 212.0 395.1 212.7 395.8 213.4 396.7 214.1 397.7 214.8 398.6 215.5 399.7 216.2 400.0 216.9 400.4 217.6 400.8 218.3 401.4 219.0 401.7 219.7 402.1 220.4 402.3 221.1 402.6 221.8 403.0 222.5 403.4 223.2 403.6 223.9 403.8 224.7 404.0 225.4 404.4 226.1 404.7 226.8 404.7 227.5 405.2 228.2 405.3 228.9 405.8 229.6 406.0 230.3 406.0 231.0 406.2 231.7 406.1 232.4 405.9 233.1 405.6 233.8 405.3 234.5 405.0 235.2 404.5 235.9 404.3 236.6 403.8 237.3 403.6 238.0 403.2 238.7 402.7 239.4 402.5 240.1 402.1 240.8 401.9 241.5 401.6 242.3 401.2 243.0 400.8 243.7 400.4 244.4 399.9 245.1 399.1 245.8 398.5 246.5 398.0 247.2 397.3 247.9 396.8 248.6 396.6 249.3 396.5 250.0 396.7 250.7 397.0 251.4 397.4 252.1 398.0 252.8 398.8 253.5 399.3 254.2 400.1 254.9 400.8 255.6 401.2 256.3 401.8 257.0 402.1 257.7 402.4 258.4 402.8 259.1 402.8 259.9 402.9 260.6 402.8 261.3 402.9 262.0 403.1 262.7 403.1 263.4 403.3 264.1 403.4 264.8 403.4 265.5 403.5 266.2 403.8 266.9 404.0 267.6 404.1 268.3 404.1 269.0 404.2 269.7 404.5 270.4 404.5 271.1 404.8 271.8 404.9 272.5 405.0 272.5 404.9 273.2 404.0 273.9 403.0 274.6 401.9 275.1 401.3 275.3 402.3 276.0 405.9 276.7 409.3 277.5 412.9 277.9 415.2 278.2 414.5 278.9 412.6 279.6 410.8 280.3 408.9 281.0 406.9 281.4 405.8 281.7 409.9 282.4 422.2 283.1 434.6 283.8 447.1 284.5 459.4 285.2 471.9 285.4 476.0 285.9 469.1 286.6 458.2 287.3 447.5 288.0 436.7 288.7 426.1 289.0 422.6 289.4 420.0 290.1 416.7 290.6 414.1 290.8 413.9 291.5 413.4 292.2 412.7 292.5 412.4 292.9 409.0 293.6 403.7 294.3 398.1 294.6 396.5 295.1 397.4 295.8 399.1 296.5 400.6 296.7 401.0 297.2 400.9 297.9 400.5 298.6 400.3 299.3 400.0 300.0 399.8 300.7 399.8 300.9 399.6 301.4 400.0 302.1 400.6 302.8 401.1 303.5 401.8 304.2 402.3 304.2 402.3 304.9 402.0 305.6 401.5 306.3 401.1 307.0 400.6 307.7 400.3 308.4 399.8 309.1 399.3 309.8 398.5 310.5 397.9 311.2 397.3 311.9 396.9 312.7 396.4 313.4 395.8 314.1 395.5 314.8 395.2 315.5 395.2 316.2 395.1 316.9 395.1 317.6 395.3 318.3 395.5 319.0 396.0 319.7 396.2 320.4 396.6 321.1 397.3" fill="none" stroke="#1818b8" stroke-width="0.6" stroke-linejoin="round"/>
<path d="M39.5 403.8L40.2 403.6 40.9 403.5 41.6 403.5 42.3 403.3 43.0 403.3 43.7 403.0 44.4 402.8 45.1 402.7 45.8 402.4 46.5 402.2 47.2 402.0 47.9 401.9 48.7 401.6 49.4 401.6 50.1 401.7 50.8 401.6 51.5 401.7 52.2 401.9 52.9 402.2 53.6 402.2 54.3 402.5 55.0 402.7 55.7 402.9 56.4 402.9 57.1 403.3 57.8 403.3 58.5 403.4 59.2 403.6 59.2 403.6 59.9 404.4 60.6 405.1 61.3 405.7 61.6 406.1 62.0 405.8 62.7 405.4 63.4 405.1 63.4 405.1 64.1 402.9 64.8 400.8 65.1 400.0 65.5 402.4 66.3 405.9 66.5 407.3 67.0 409.2 67.7 412.3 68.4 415.7 68.6 416.5 69.1 416.7 69.8 416.7 70.5 416.9 71.2 416.8 71.9 416.9 71.9 417.0 72.6 424.8 73.3 433.0 74.0 441.0 74.5 446.3 74.7 444.1 75.4 437.5 76.1 430.7 76.8 424.0 76.8 424.1 77.5 415.3 78.2 406.9 78.2 406.9 78.9 405.8 79.4 405.2 79.6 406.3 80.3 409.7 81.0 413.3 81.0 413.1 81.7 410.5 82.4 408.0 83.1 405.0 83.9 402.2 84.6 399.7 85.3 396.7 85.5 395.9 86.0 397.0 86.7 398.4 87.4 400.1 88.1 401.5 88.1 401.4 88.8 401.5 89.5 401.5 90.2 401.4 90.9 401.4 91.6 401.4 92.1 401.5 92.3 401.2 93.0 400.9 93.7 400.5 94.4 400.2 95.1 399.7 95.8 399.4 96.5 399.1 97.2 398.7 97.9 398.6 98.6 398.6 99.3 398.6 100.0 398.8 100.7 399.0 101.5 399.3 102.2 399.5 102.9 399.8 103.6 400.3 104.3 400.9 105.0 401.3 105.7 401.6 106.4 402.1 107.1 402.6 107.8 403.1 108.5 403.6 109.2 404.0 109.9 404.5 110.6 404.5 111.3 404.6 112.0 404.6 112.7 404.9 113.4 405.0 114.1 404.9 114.8 405.1 115.5 405.2 116.2 405.7 116.9 405.8 117.6 406.0 118.3 406.1 119.1 406.2 119.8 406.5 120.5 406.4 121.2 406.6 121.9 406.6 122.6 406.5 123.3 406.6 124.0 406.5 124.7 406.4 125.4 406.1 126.1 405.9 126.8 405.5 127.5 405.1 128.2 404.7 128.9 404.5 129.6 404.1 130.3 403.6 131.0 403.3 131.7 403.0 132.4 402.8 133.1 402.5 133.8 402.3 134.5 401.8 135.2 401.7 135.9 401.3 136.7 400.8 137.4 400.7 138.1 400.3 138.8 400.0 139.5 399.8 140.2 399.8 140.9 399.8 141.6 399.9 142.3 399.9 143.0 400.3 143.7 400.6 144.4 400.8 145.1 401.2 145.8 401.4 146.5 401.7 147.2 401.8 147.9 402.1 148.6 402.2 149.3 402.1 150.0 402.3 150.7 402.2 151.4 402.1 152.1 402.1 152.8 402.2 153.5 402.2 154.3 402.1 155.0 401.9 155.7 402.0 156.4 402.0 157.1 401.9 157.8 402.0 158.5 401.9 159.2 402.0 159.9 402.1 160.6 402.3 161.3 402.2 162.0 402.4 162.7 402.5 163.4 402.5 164.1 402.5 164.8 402.5 165.5 402.8 166.2 402.8 166.9 402.9 167.6 402.9 168.3 403.0 169.0 403.1 169.7 403.2 170.4 403.2 171.1 403.2 171.9 403.3 172.6 403.3 173.3 403.4 173.3 403.5 174.0 404.0 174.4 404.5 174.7 401.4 175.4 391.9 176.1 382.2 176.3 378.9 176.8 406.4 177.5 447.5 178.2 488.8 178.9 529.9 179.6 571.3 179.8 584.9 180.3 559.8 181.0 522.2 181.7 484.5 182.4 446.5 183.1 408.7 183.8 371.2 183.8 371.1 184.5 384.4 185.2 397.4 185.5 401.9 185.9 403.8 186.4 405.7 186.6 404.6 187.3 401.9 188.0 399.1 188.5 397.4 188.7 398.3 189.5 400.8 190.2 403.6 190.2 403.6 190.9 403.2 191.6 402.7 192.0 402.4 192.3 402.3 193.0 402.3 193.7 402.1 194.4 401.9 195.1 401.6 195.8 401.4 196.5 401.1 197.2 400.8 197.9 400.4 198.6 400.1 199.3 399.8 200.0 399.4 200.7 399.0 201.4 398.7 202.1 398.3 202.8 398.0 203.5 397.6 204.2 397.1 204.9 396.9 205.6 396.6 206.3 396.4 207.1 396.1 207.8 396.0 208.5 395.8 209.2 396.0 209.9 396.0 210.6 396.2 211.3 396.2 212.0 396.4 212.7 396.8 213.4 397.1 214.1 397.3 214.8 397.6 215.5 397.8 216.2 398.5 216.9 398.9 217.6 399.4 218.3 399.8 219.0 400.3 219.7 400.6 220.4 401.1 221.1 401.6 221.8 402.1 222.5 402.6 223.2 403.1 223.9 403.4 224.7 404.1 225.4 404.5 226.1 405.0 226.8 405.5 227.5 406.1 228.2 406.4 228.9 406.9 229.6 407.4 230.3 407.6 231.0 407.7 231.7 407.9 232.4 408.0 233.1 407.9 233.8 407.5 234.5 407.4 235.2 407.3 235.9 407.0 236.6 406.8 237.3 406.6 238.0 406.2 238.7 406.1 239.4 405.8 240.1 405.3 240.8 404.7 241.5 404.2 242.3 403.6 243.0 403.1 243.7 402.5 244.4 402.0 245.1 401.3 245.8 400.6 246.5 399.9 247.2 399.1 247.9 398.7 248.6 398.2 249.3 397.8 250.0 397.8 250.7 397.7 251.4 398.1 252.1 398.4 252.8 399.1 253.5 399.4 254.2 399.9 254.9 400.4 255.6 401.0 256.3 401.3 257.0 401.5 257.7 401.9 258.4 401.9 259.1 402.1 259.9 402.1 260.6 402.2 261.3 402.2 262.0 402.5 262.7 402.4 263.4 402.5 264.1 402.3 264.8 402.5 265.5 402.3 266.2 402.5 266.9 402.4 267.6 402.4 268.3 402.5 269.0 402.3 269.7 402.4 270.4 402.4 271.1 402.4 271.8 402.4 272.5 402.3 273.2 402.2 273.9 402.3 274.2 402.2 274.6 401.6 275.3 400.4 276.0 399.3 276.7 398.0 276.7 398.0 277.5 401.5 278.2 405.1 278.9 408.4 279.6 411.8 279.6 411.9 280.3 409.9 281.0 408.0 281.7 406.2 282.4 404.0 283.1 402.1 283.1 402.2 283.8 409.4 284.5 416.8 285.2 424.0 285.9 431.2 286.6 438.7 287.1 443.6 287.3 442.0 288.0 437.3 288.7 432.7 289.4 428.0 290.1 423.1 290.6 420.1 290.8 418.9 291.5 415.7 292.2 412.4 292.2 412.5 292.9 411.9 293.6 411.7 294.1 411.4 294.3 409.8 295.1 404.5 295.8 399.5 296.2 396.2 296.5 396.8 297.2 398.4 297.9 400.2 298.3 401.3 298.6 401.1 299.3 400.7 300.0 400.3 300.7 399.8 301.4 399.4 302.1 398.6 302.6 398.4 302.8 398.5 303.5 398.8 304.2 399.1 304.9 399.3 305.6 399.7 305.8 399.8 306.3 399.4 307.0 398.9 307.7 398.2 308.4 397.6 309.1 396.9 309.8 396.4 310.5 396.0 311.2 395.6 311.9 395.4 312.7 395.0 313.4 394.7 314.1 394.4 314.8 394.4 315.5 394.2 316.2 394.2 316.9 394.2 317.6 394.3 318.3 394.6 319.0 395.0 319.7 395.2 320.4 395.5 321.1 396.0" fill="none" stroke="#1818b8" stroke-width="0.6" stroke-linejoin="round"/>
<path d="M39.5 404.3L40.2 404.2 40.9 404.2 41.6 404.0 42.3 403.8 43.0 403.8 43.7 403.7 44.4 403.7 45.1 403.3 45.8 403.3 46.5 403.0 47.2 403.0 47.9 402.8 48.7 402.7 49.4 402.8 50.1 402.7 50.8 402.9 51.5 403.0 52.2 403.2 52.9 403.2 53.6 403.4 54.3 403.7 55.0 404.0 55.7 404.1 56.4 404.2 57.1 404.5 57.8 404.5 58.5 404.6 58.7 404.8 59.2 405.3 59.9 405.9 60.6 406.7 61.1 407.2 61.3 407.0 62.0 406.8 62.7 406.5 63.0 406.4 63.4 404.8 64.1 402.5 64.6 400.8 64.8 402.1 65.5 405.2 66.0 407.5 66.3 409.2 67.0 415.1 67.7 420.9 68.1 424.8 68.4 424.9 69.1 425.5 69.8 426.0 70.5 426.6 71.2 427.3 71.4 427.3 71.9 431.2 72.6 436.9 73.3 442.8 74.0 448.5 74.0 448.5 74.7 440.2 75.4 432.1 76.1 424.0 76.3 421.3 76.8 415.4 77.5 406.9 77.8 404.1 78.2 403.1 78.9 402.0 78.9 402.0 79.6 405.5 80.3 408.9 80.6 410.1 81.0 408.2 81.7 405.6 82.4 402.8 83.1 399.9 83.9 397.0 84.6 394.2 85.0 392.4 85.3 392.8 86.0 394.4 86.7 396.1 87.4 397.9 87.6 398.4 88.1 398.7 88.8 399.1 89.5 399.1 90.2 399.4 90.9 399.7 91.6 399.9 91.6 400.0 92.3 399.8 93.0 399.9 93.7 399.6 94.4 399.6 95.1 399.4 95.8 399.6 96.5 399.3 97.2 399.5 97.9 399.4 98.6 399.3 99.3 399.5 100.0 399.4 100.7 399.3 101.5 399.4 102.2 399.5 102.9 399.4 103.6 399.6 104.3 399.9 105.0 400.0 105.7 400.2 106.4 400.5 107.1 400.7 107.8 400.7 108.5 401.1 109.2 401.2 109.9 401.3 110.6 401.6 111.3 402.0 112.0 402.3 112.7 402.5 113.4 402.7 114.1 403.0 114.8 403.5 115.5 403.7 116.2 404.2 116.9 404.6 117.6 405.1 118.3 405.3 119.1 405.6 119.8 406.2 120.5 406.3 121.2 406.7 121.9 406.7 122.6 407.2 123.3 407.3 124.0 407.2 124.7 407.4 125.4 407.1 126.1 407.0 126.8 406.9 127.5 406.8 128.2 406.5 128.9 406.2 129.6 406.1 130.3 406.0 131.0 405.8 131.7 405.6 132.4 405.4 133.1 405.4 133.8 405.0 134.5 404.5 135.2 403.8 135.9 403.2 136.7 402.8 137.4 402.1 138.1 401.5 138.8 401.1 139.5 400.7 140.2 400.4 140.9 399.9 141.6 399.8 142.3 399.8 143.0 399.7 143.7 400.0 144.4 399.8 145.1 400.0 145.8 400.4 146.5 400.8 147.2 401.2 147.9 401.3 148.6 401.7 149.3 401.9 150.0 401.9 150.7 402.2 151.4 402.3 152.1 402.3 152.8 402.5 153.5 402.6 154.3 402.7 155.0 402.9 155.7 402.7 156.4 402.8 157.1 403.2 157.8 403.2 158.5 403.2 159.2 403.5 159.9 403.4 160.6 403.7 161.3 403.9 162.0 403.9 162.7 404.0 163.4 404.2 164.1 404.2 164.8 404.3 165.5 404.5 166.2 404.7 166.9 404.7 167.6 404.9 168.3 405.0 169.0 405.0 169.7 405.2 170.4 405.1 171.1 405.3 171.9 405.2 172.6 405.3 173.3 405.3 173.3 405.2 174.0 405.9 174.4 406.3 174.7 403.7 175.4 395.3 176.1 387.0 176.3 384.1 176.8 407.4 177.5 442.4 178.2 477.2 178.9 512.0 179.6 547.0 179.8 558.5 180.3 535.4 181.0 500.3 181.7 465.3 182.4 430.1 183.1 395.1 183.8 360.0 183.8 360.1 184.5 378.6 185.2 397.4 185.5 403.4 185.9 405.4 186.4 407.2 186.6 406.3 187.3 403.7 188.0 401.0 188.5 399.2 188.7 400.2 189.5 402.8 190.2 405.4 190.2 405.4 190.9 405.2 191.6 404.7 192.0 404.6 192.3 404.3 193.0 404.3 193.7 404.1 194.4 403.9 195.1 403.5 195.8 403.2 196.5 402.9 197.2 402.8 197.9 402.4 198.6 402.1 199.3 401.8 200.0 401.2 200.7 401.1 201.4 400.7 202.1 400.3 202.8 399.9 203.5 399.8 204.2 399.5 204.9 399.2 205.6 399.3 206.3 399.1 207.1 398.9 207.8 399.0 208.5 399.0 209.2 399.1 209.9 399.1 210.6 399.3 211.3 399.5 212.0 399.4 212.7 399.7 213.4 399.9 214.1 400.3 214.8 400.5 215.5 400.6 216.2 401.1 216.9 401.4 217.6 401.7 218.3 402.2 219.0 402.6 219.7 402.8 220.4 403.3 221.1 403.9 221.8 404.3 222.5 404.7 223.2 405.3 223.9 405.8 224.7 406.2 225.4 406.7 226.1 407.3 226.8 407.8 227.5 408.3 228.2 408.4 228.9 408.4 229.6 408.6 230.3 408.4 231.0 408.4 231.7 408.1 232.4 407.8 233.1 407.3 233.8 407.0 234.5 406.4 235.2 405.9 235.9 405.2 236.6 404.7 237.3 404.1 238.0 403.4 238.7 403.0 239.4 402.7 240.1 402.7 240.8 402.6 241.5 402.5 242.3 402.3 243.0 402.2 243.7 402.1 244.4 402.0 245.1 401.8 245.8 401.6 246.5 401.4 247.2 401.1 247.9 401.1 248.6 401.2 249.3 401.3 250.0 401.5 250.7 401.6 251.4 401.9 252.1 402.0 252.8 402.3 253.5 402.5 254.2 403.0 254.9 403.2 255.6 403.4 256.3 403.6 257.0 403.5 257.7 403.8 258.4 403.7 259.1 403.8 259.9 404.0 260.6 403.9 261.3 403.9 262.0 403.9 262.7 403.9 263.4 403.9 264.1 404.2 264.8 404.2 265.5 404.2 266.2 404.3 266.9 404.5 267.6 404.5 268.3 404.7 269.0 404.7 269.7 404.8 270.4 405.0 271.1 405.1 271.8 405.2 272.5 405.1 273.2 405.3 273.5 405.4 273.9 404.6 274.6 403.5 275.3 402.1 276.0 400.7 276.0 400.7 276.7 404.0 277.5 407.2 278.2 410.2 278.9 413.4 278.9 413.3 279.6 411.1 280.3 409.1 281.0 406.9 281.7 404.6 282.4 402.6 282.4 402.5 283.1 411.9 283.8 421.1 284.5 430.5 285.2 440.0 285.9 449.2 286.4 455.9 286.6 453.5 287.3 446.3 288.0 439.2 288.7 431.9 289.4 424.7 289.9 419.9 290.1 418.9 290.8 415.8 291.5 412.6 291.5 412.6 292.2 412.4 292.9 411.9 293.4 411.9 293.6 410.3 294.3 405.3 295.1 400.3 295.5 397.1 295.8 397.6 296.5 399.5 297.2 401.5 297.6 402.7 297.9 402.8 298.6 402.2 299.3 401.7 300.0 401.3 300.7 400.7 301.4 400.3 301.9 399.8 302.1 399.9 302.8 400.3 303.5 400.6 304.2 400.9 304.9 401.3 305.1 401.2 305.6 400.8 306.3 400.3 307.0 399.9 307.7 399.2 308.4 398.8 309.1 398.1 309.8 397.7 310.5 397.4 311.2 397.3 311.9 397.1 312.7 396.8 313.4 396.7 314.1 396.7 314.8 396.7 315.5 396.8 316.2 396.9 316.9 397.1 317.6 397.1 318.3 397.4 319.0 397.8 319.7 398.0 320.4 398.7 321.1 399.0" fill="none" stroke="#1818b8" stroke-width="0.6" stroke-linejoin="round"/>
<path d="M39.5 403.5L40.2 403.5 40.9 403.5 41.6 403.6 42.3 403.7 43.0 403.6 43.7 403.6 44.4 403.5 45.1 403.5 45.8 403.5 46.5 403.3 47.2 403.3 47.9 403.4 48.7 403.4 49.4 403.4 50.1 403.6 50.8 403.6 51.5 403.9 52.2 404.0 52.9 404.1 53.6 404.2 54.3 404.1 55.0 404.3 55.7 404.3 56.4 404.3 57.1 404.4 57.8 404.5 58.5 404.3 59.2 404.3 59.4 404.5 59.9 404.8 60.6 405.4 61.3 405.9 61.8 406.4 62.0 406.2 62.7 405.9 63.4 405.3 63.7 405.2 64.1 403.6 64.8 401.1 65.3 399.5 65.5 400.6 66.3 403.9 66.7 406.1 67.0 407.0 67.7 410.0 68.4 412.8 68.8 414.8 69.1 414.9 69.8 414.6 70.5 414.4 71.2 414.3 71.9 414.2 72.1 414.1 72.6 418.1 73.3 424.2 74.0 430.4 74.7 436.8 74.7 436.7 75.4 432.0 76.1 427.3 76.8 422.6 77.0 420.9 77.5 415.3 78.2 407.2 78.5 404.2 78.9 403.9 79.6 403.1 79.6 403.0 80.3 406.7 81.0 410.3 81.3 411.8 81.7 410.2 82.4 407.8 83.1 405.2 83.9 402.8 84.6 400.3 85.3 397.9 85.7 396.1 86.0 396.7 86.7 398.7 87.4 400.4 88.1 402.0 88.3 402.5 88.8 402.6 89.5 403.1 90.2 403.2 90.9 403.5 91.6 403.6 92.3 404.1 92.3 404.0 93.0 403.9 93.7 403.6 94.4 403.6 95.1 403.4 95.8 403.4 96.5 403.3 97.2 403.3 97.9 403.1 98.6 403.1 99.3 403.0 100.0 403.1 100.7 403.1 101.5 403.1 102.2 403.2 102.9 403.3 103.6 403.4 104.3 403.5 105.0 403.4 105.7 403.7 106.4 403.9 107.1 404.0 107.8 404.1 108.5 404.1 109.2 404.4 109.9 404.4 110.6 404.6 111.3 404.7 112.0 404.7 112.7 405.0 113.4 405.3 114.1 405.4 114.8 405.7 115.5 406.0 116.2 406.5 116.9 406.7 117.6 407.1 118.3 407.4 119.1 408.0 119.8 408.2 120.5 408.5 121.2 408.8 121.9 409.0 122.6 409.2 123.3 409.3 124.0 409.3 124.7 409.1 125.4 408.8 126.1 408.7 126.8 408.3 127.5 408.1 128.2 407.6 128.9 407.0 129.6 406.9 130.3 406.4 131.0 406.0 131.7 405.8 132.4 405.5 133.1 405.4 133.8 405.0 134.5 404.7 135.2 404.5 135.9 404.1 136.7 404.0 137.4 403.5 138.1 403.4 138.8 403.1 139.5 403.0 140.2 402.8 140.9 403.0 141.6 403.0 142.3 403.3 143.0 403.5 143.7 403.9 144.4 404.1 145.1 404.5 145.8 404.7 146.5 404.8 147.2 404.9 147.9 405.0 148.6 404.8 149.3 404.9 150.0 404.9 150.7 404.7 151.4 404.5 152.1 404.5 152.8 404.2 153.5 404.1 154.3 403.9 155.0 403.9 155.7 403.8 156.4 403.6 157.1 403.5 157.8 403.5 158.5 403.6 159.2 403.6 159.9 403.6 160.6 403.7 161.3 403.7 162.0 403.6 162.7 403.9 163.4 403.7 164.1 403.9 164.8 403.8 165.5 404.1 166.2 403.9 166.9 404.1 167.6 403.9 168.3 404.2 169.0 404.2 169.7 404.2 170.4 404.3 171.1 404.4 171.9 404.3 172.6 404.3 173.3 404.5 173.3 404.5 174.0 405.1 174.4 405.4 174.7 403.3 175.4 396.1 176.1 389.1 176.3 386.7 176.8 405.1 177.5 432.3 178.2 459.6 178.9 486.9 179.6 514.3 179.8 523.5 180.3 505.8 181.0 479.3 181.7 452.6 182.4 426.0 183.1 399.5 183.8 372.8 183.8 372.9 184.5 385.6 185.2 398.4 185.5 402.6 185.9 404.4 186.4 406.3 186.6 405.5 187.3 402.6 188.0 399.9 188.5 398.1 188.7 399.0 189.5 401.6 190.2 404.5 190.2 404.4 190.9 403.9 191.6 403.6 192.0 403.4 192.3 403.3 193.0 403.1 193.7 403.2 194.4 402.9 195.1 402.9 195.8 402.6 196.5 402.5 197.2 402.4 197.9 402.1 198.6 401.9 199.3 401.6 200.0 401.4 200.7 401.2 201.4 401.1 202.1 400.8 202.8 400.8 203.5 400.4 204.2 400.4 204.9 400.4 205.6 400.2 206.3 400.3 207.1 400.3 207.8 400.2 208.5 400.5 209.2 400.5 209.9 400.5 210.6 400.8 211.3 400.9 212.0 401.0 212.7 401.2 213.4 401.5 214.1 401.6 214.8 401.8 215.5 402.0 216.2 402.2 216.9 402.3 217.6 402.5 218.3 402.9 219.0 403.1 219.7 403.4 220.4 403.7 221.1 404.0 221.8 404.2 222.5 404.6 223.2 405.2 223.9 405.6 224.7 406.1 225.4 406.5 226.1 407.0 226.8 407.5 227.5 408.2 228.2 408.3 228.9 408.9 229.6 409.1 230.3 409.2 231.0 409.2 231.7 409.3 232.4 409.0 233.1 408.8 233.8 408.5 234.5 408.0 235.2 407.5 235.9 407.0 236.6 406.6 237.3 406.0 238.0 405.5 238.7 405.3 239.4 404.9 240.1 404.3 240.8 404.0 241.5 403.7 242.3 403.4 243.0 402.9 243.7 402.7 244.4 402.6 245.1 402.4 245.8 401.9 246.5 401.8 247.2 401.5 247.9 401.5 248.6 401.3 249.3 401.2 250.0 401.2 250.7 401.0 251.4 401.1 252.1 401.0 252.8 401.2 253.5 401.3 254.2 401.4 254.9 401.3 255.6 401.5 256.3 401.5 257.0 401.6 257.7 401.5 258.4 401.6 259.1 401.4 259.9 401.5 260.6 401.4 261.3 401.4 262.0 401.4 262.7 401.3 263.4 401.6 264.1 401.7 264.8 402.0 265.5 402.2 266.2 402.5 266.9 402.6 267.6 402.8 268.3 402.9 269.0 403.0 269.7 403.3 270.4 403.4 271.1 403.6 271.8 403.9 272.5 404.0 273.2 404.3 273.9 404.3 274.4 404.5 274.6 404.1 275.3 403.0 276.0 401.7 276.7 400.6 277.0 400.3 277.5 402.6 278.2 406.1 278.9 409.3 279.6 413.0 279.8 414.1 280.3 412.8 281.0 410.7 281.7 408.8 282.4 407.0 283.1 404.9 283.3 404.3 283.8 408.9 284.5 415.3 285.2 421.9 285.9 428.4 286.6 434.8 287.3 441.2 287.3 441.1 288.0 437.0 288.7 432.8 289.4 428.6 290.1 424.5 290.8 420.5 290.8 420.4 291.5 416.9 292.2 413.3 292.5 412.0 292.9 411.9 293.6 411.1 294.3 410.4 294.3 410.3 295.1 405.1 295.8 399.6 296.5 394.5 296.5 394.4 297.2 396.0 297.9 397.6 298.6 399.4 298.6 399.6 299.3 399.5 300.0 399.3 300.7 399.3 301.4 399.2 302.1 399.2 302.8 399.0 302.8 399.0 303.5 399.8 304.2 400.8 304.9 401.4 305.6 402.3 306.1 402.6 306.3 402.6 307.0 402.6 307.7 402.9 308.4 402.8 309.1 402.7 309.8 402.5 310.5 402.4 311.2 401.9 311.9 401.8 312.7 401.5 313.4 401.4 314.1 401.1 314.8 401.0 315.5 400.9 316.2 400.6 316.9 400.6 317.6 400.4 318.3 400.5 319.0 400.5 319.7 400.6 320.4 400.5 321.1 400.5" fill="none" stroke="#1818b8" stroke-width="0.6" stroke-linejoin="round"/>
<path d="M39.5 403.2L40.2 403.4 40.9 403.3 41.6 403.4 42.3 403.3 43.0 403.3 43.7 403.0 44.4 403.1 45.1 403.0 45.8 402.8 46.5 402.7 47.2 402.6 47.9 402.7 48.7 402.7 49.4 402.6 50.1 402.8 50.8 403.0 51.5 402.9 52.2 403.1 52.9 403.0 53.6 403.0 54.3 403.0 55.0 403.0 55.7 403.0 56.4 402.9 57.1 402.9 57.8 402.6 58.5 402.7 59.0 402.6 59.2 402.7 59.9 403.3 60.6 403.8 61.3 404.4 61.3 404.3 62.0 403.8 62.7 403.3 63.2 403.1 63.4 402.3 64.1 400.4 64.8 398.5 64.8 398.4 65.5 401.9 66.3 405.8 66.3 405.7 67.0 408.9 67.7 412.4 68.4 415.6 68.4 415.7 69.1 415.9 69.8 416.0 70.5 416.2 71.2 416.5 71.6 416.6 71.9 419.3 72.6 427.2 73.3 435.4 74.0 443.4 74.2 446.0 74.7 441.8 75.4 435.0 76.1 428.4 76.6 423.8 76.8 420.9 77.5 412.2 78.0 406.2 78.2 405.9 78.9 404.4 79.2 404.1 79.6 406.4 80.3 409.7 80.8 411.8 81.0 410.8 81.7 408.0 82.4 405.2 83.1 402.2 83.9 399.5 84.6 396.4 85.3 393.5 85.3 393.4 86.0 395.0 86.7 396.8 87.4 398.5 87.8 399.8 88.1 400.1 88.8 400.7 89.5 401.0 90.2 401.6 90.9 402.0 91.6 402.4 91.8 402.6 92.3 402.9 93.0 402.8 93.7 403.0 94.4 403.1 95.1 403.3 95.8 403.4 96.5 403.6 97.2 403.8 97.9 403.9 98.6 403.7 99.3 403.6 100.0 403.4 100.7 403.0 101.5 402.8 102.2 402.7 102.9 402.6 103.6 402.4 104.3 402.2 105.0 401.9 105.7 401.9 106.4 401.6 107.1 401.7 107.8 401.5 108.5 401.3 109.2 401.1 109.9 401.2 110.6 401.3 111.3 401.7 112.0 402.1 112.7 402.4 113.4 402.8 114.1 403.1 114.8 403.5 115.5 404.1 116.2 404.5 116.9 405.1 117.6 405.6 118.3 406.3 119.1 406.6 119.8 407.3 120.5 407.6 121.2 408.1 121.9 408.3 122.6 408.4 123.3 408.4 124.0 408.3 124.7 408.2 125.4 408.0 126.1 407.6 126.8 407.2 127.5 407.0 128.2 406.6 128.9 406.2 129.6 405.7 130.3 405.6 131.0 405.2 131.7 405.0 132.4 404.7 133.1 404.3 133.8 404.0 134.5 403.7 135.2 403.4 135.9 402.8 136.7 402.5 137.4 402.0 138.1 401.7 138.8 401.3 139.5 401.0 140.2 400.7 140.9 400.6 141.6 400.7 142.3 400.8 143.0 401.0 143.7 401.1 144.4 401.5 145.1 401.7 145.8 401.8 146.5 402.2 147.2 402.1 147.9 402.3 148.6 402.4 149.3 402.5 150.0 402.5 150.7 402.3 151.4 402.3 152.1 402.2 152.8 402.4 153.5 402.1 154.3 402.2 155.0 402.1 155.7 402.0 156.4 401.9 157.1 402.0 157.8 401.8 158.5 401.8 159.2 401.7 159.9 401.6 160.6 401.7 161.3 401.7 162.0 401.5 162.7 401.6 163.4 401.7 164.1 401.5 164.8 401.5 165.5 401.6 166.2 401.6 166.9 401.6 167.6 401.4 168.3 401.5 169.0 401.6 169.7 401.7 170.4 401.9 171.1 402.0 171.9 402.2 172.6 402.4 173.3 402.5 173.3 402.4 174.0 403.1 174.4 403.8 174.7 401.8 175.4 396.1 176.1 390.5 176.3 388.7 176.8 402.0 177.5 422.2 178.2 442.3 178.9 462.3 179.6 482.4 179.8 489.3 180.3 476.1 181.0 455.9 181.7 436.2 182.4 416.2 183.1 396.4 183.8 376.4 183.8 376.4 184.5 387.8 185.2 399.2 185.5 403.1 185.9 405.1 186.4 407.1 186.6 406.3 187.3 403.6 188.0 401.3 188.5 399.3 188.7 400.4 189.5 403.4 190.2 406.1 190.2 406.3 190.9 406.0 191.6 405.9 192.0 405.5 192.3 405.7 193.0 405.4 193.7 405.5 194.4 405.2 195.1 405.2 195.8 405.0 196.5 404.6 197.2 404.3 197.9 404.2 198.6 403.9 199.3 403.7 200.0 403.5 200.7 403.4 201.4 403.0 202.1 402.8 202.8 402.5 203.5 402.4 204.2 402.0 204.9 401.8 205.6 401.4 206.3 401.2 207.1 401.0 207.8 400.9 208.5 400.6 209.2 400.5 209.9 400.3 210.6 400.3 211.3 400.4 212.0 400.4 212.7 400.4 213.4 400.3 214.1 400.2 214.8 400.3 215.5 400.3 216.2 400.6 216.9 400.9 217.6 401.1 218.3 401.7 219.0 401.9 219.7 402.2 220.4 402.5 221.1 403.0 221.8 403.4 222.5 403.8 223.2 404.6 223.9 405.1 224.7 405.5 225.4 406.4 226.1 407.0 226.8 407.4 227.5 407.9 228.2 408.7 228.9 409.0 229.6 409.1 230.3 409.3 231.0 409.4 231.7 409.3 232.4 409.0 233.1 408.7 233.8 408.5 234.5 408.0 235.2 407.2 235.9 406.6 236.6 406.1 237.3 405.7 238.0 405.2 238.7 404.7 239.4 404.4 240.1 404.0 240.8 403.9 241.5 403.7 242.3 403.5 243.0 403.4 243.7 403.1 244.4 403.0 245.1 402.9 245.8 402.5 246.5 402.5 247.2 402.4 247.9 402.2 248.6 402.2 249.3 402.1 250.0 402.4 250.7 402.7 251.4 402.7 252.1 403.0 252.8 403.1 253.5 403.3 254.2 403.4 254.9 403.7 255.6 403.9 256.3 403.9 257.0 404.0 257.7 403.9 258.4 403.9 259.1 403.8 259.9 403.8 260.6 403.8 261.3 403.6 262.0 403.6 262.7 403.6 263.4 403.7 264.1 403.7 264.8 404.0 265.5 404.1 266.2 404.1 266.9 404.3 267.6 404.6 268.3 404.8 269.0 404.7 269.7 404.9 270.4 405.2 271.1 405.2 271.8 405.4 272.5 405.6 273.2 405.7 273.9 405.8 273.9 405.9 274.6 404.7 275.3 403.7 276.0 402.5 276.5 401.7 276.7 402.9 277.5 406.1 278.2 409.8 278.9 413.2 279.3 415.2 279.6 414.6 280.3 412.6 281.0 410.8 281.7 408.7 282.4 407.0 282.8 405.5 283.1 407.5 283.8 413.6 284.5 419.5 285.2 425.3 285.9 431.2 286.6 437.1 286.8 439.0 287.3 436.9 288.0 433.6 288.7 430.3 289.4 426.9 290.1 423.3 290.4 422.5 290.8 420.1 291.5 416.6 292.0 414.4 292.2 414.2 292.9 413.6 293.6 413.1 293.9 412.8 294.3 409.3 295.1 404.1 295.8 398.8 296.0 397.1 296.5 398.1 297.2 400.0 297.9 401.6 298.1 402.1 298.6 401.8 299.3 401.3 300.0 400.8 300.7 400.5 301.4 400.2 302.1 399.8 302.3 399.6 302.8 400.0 303.5 400.3 304.2 400.8 304.9 401.4 305.6 401.8 305.6 401.7 306.3 401.5 307.0 401.3 307.7 400.8 308.4 400.5 309.1 400.5 309.8 400.2 310.5 400.3 311.2 400.4 311.9 400.4 312.7 400.4 313.4 400.2 314.1 400.4 314.8 400.5 315.5 400.6 316.2 400.5 316.9 400.7 317.6 400.8 318.3 400.9 319.0 401.2 319.7 401.4 320.4 401.5 321.1 401.7" fill="none" stroke="#1818b8" stroke-width="0.6" stroke-linejoin="round"/>
<path d="M39.5 405.8L40.2 405.7 40.9 405.4 41.6 405.4 42.3 405.3 43.0 405.0 43.7 404.9 44.4 404.6 45.1 404.4 45.8 404.1 46.5 403.9 47.2 403.8 47.9 403.7 48.7 403.4 49.4 403.4 50.1 403.3 50.8 403.2 51.5 403.3 52.2 403.6 52.9 403.7 53.6 403.9 54.3 404.0 55.0 404.1 55.7 404.4 56.4 404.5 57.1 404.7 57.8 404.6 58.5 404.9 59.2 404.8 59.7 404.9 59.9 405.2 60.6 405.8 61.3 406.6 62.0 407.3 62.0 407.2 62.7 406.8 63.4 406.6 63.9 406.3 64.1 405.6 64.8 403.2 65.5 401.0 65.5 401.1 66.3 404.5 67.0 407.9 67.0 407.8 67.7 410.8 68.4 413.9 69.1 416.9 69.1 417.0 69.8 416.9 70.5 416.9 71.2 416.9 71.9 416.9 72.4 417.0 72.6 418.5 73.3 423.8 74.0 429.0 74.7 433.9 74.9 435.8 75.4 433.3 76.1 429.7 76.8 425.9 77.3 423.5 77.5 420.5 78.2 411.9 78.7 406.2 78.9 406.0 79.6 404.7 79.9 404.5 80.3 406.6 81.0 410.1 81.5 412.6 81.7 411.7 82.4 408.8 83.1 406.0 83.9 403.2 84.6 400.6 85.3 397.9 86.0 395.0 86.0 395.2 86.7 396.6 87.4 398.4 88.1 400.2 88.5 401.3 88.8 401.5 89.5 401.7 90.2 402.1 90.9 402.4 91.6 402.8 92.3 403.0 92.5 403.2 93.0 403.1 93.7 402.9 94.4 403.0 95.1 402.8 95.8 402.7 96.5 402.7 97.2 402.8 97.9 402.9 98.6 402.9 99.3 402.9 100.0 402.7 100.7 402.7 101.5 402.7 102.2 403.0 102.9 402.9 103.6 403.0 104.3 403.4 105.0 403.3 105.7 403.6 106.4 403.6 107.1 403.9 107.8 404.2 108.5 404.4 109.2 404.5 109.9 404.7 110.6 404.9 111.3 404.8 112.0 405.0 112.7 405.2 113.4 405.3 114.1 405.7 114.8 406.0 115.5 406.2 116.2 406.6 116.9 407.0 117.6 407.4 118.3 407.8 119.1 408.1 119.8 408.4 120.5 408.5 121.2 408.7 121.9 408.9 122.6 409.1 123.3 409.2 124.0 409.1 124.7 408.8 125.4 408.8 126.1 408.4 126.8 408.0 127.5 407.6 128.2 407.2 128.9 406.7 129.6 406.3 130.3 405.9 131.0 405.7 131.7 405.4 132.4 405.0 133.1 404.9 133.8 404.8 134.5 404.4 135.2 404.4 135.9 404.2 136.7 403.9 137.4 403.8 138.1 403.6 138.8 403.4 139.5 403.5 140.2 403.3 140.9 403.4 141.6 403.4 142.3 403.6 143.0 403.8 143.7 404.0 144.4 404.1 145.1 404.2 145.8 404.3 146.5 404.7 147.2 404.7 147.9 404.7 148.6 404.7 149.3 404.7 150.0 404.8 150.7 404.7 151.4 404.7 152.1 404.6 152.8 404.7 153.5 404.6 154.3 404.5 155.0 404.5 155.7 404.6 156.4 404.4 157.1 404.6 157.8 404.6 158.5 404.5 159.2 404.7 159.9 404.7 160.6 404.6 161.3 404.6 162.0 404.7 162.7 404.5 163.4 404.6 164.1 404.7 164.8 404.7 165.5 404.8 166.2 404.6 166.9 404.9 167.6 404.9 168.3 404.9 169.0 404.8 169.7 404.9 170.4 405.0 171.1 405.0 171.9 404.9 172.6 405.1 173.3 405.0 173.3 405.0 174.0 405.8 174.4 406.2 174.7 403.1 175.4 393.7 176.1 384.4 176.3 381.1 176.8 396.6 177.5 419.7 178.2 442.6 178.9 465.8 179.6 488.9 179.8 496.5 180.3 481.6 181.0 459.0 181.7 436.3 182.4 413.6 183.1 391.1 183.8 368.5 183.8 368.5 184.5 383.0 185.2 397.7 185.5 402.4 185.9 404.2 186.4 406.0 186.6 405.1 187.3 402.3 188.0 399.5 188.5 397.7 188.7 398.4 189.5 401.1 190.2 403.6 190.2 403.8 190.9 403.2 191.6 403.0 192.0 402.6 192.3 402.5 193.0 402.8 193.7 402.9 194.4 403.1 195.1 403.2 195.8 403.2 196.5 403.6 197.2 403.5 197.9 403.9 198.6 403.8 199.3 403.9 200.0 404.0 200.7 404.2 201.4 404.3 202.1 404.4 202.8 404.5 203.5 404.6 204.2 404.5 204.9 404.4 205.6 404.0 206.3 403.8 207.1 403.6 207.8 403.3 208.5 403.3 209.2 403.0 209.9 402.9 210.6 402.7 211.3 402.5 212.0 402.5 212.7 402.3 213.4 402.2 214.1 402.1 214.8 402.1 215.5 401.9 216.2 401.9 216.9 402.2 217.6 402.4 218.3 402.4 219.0 402.7 219.7 403.0 220.4 403.1 221.1 403.4 221.8 403.7 222.5 403.9 223.2 404.4 223.9 404.7 224.7 405.2 225.4 405.6 226.1 406.2 226.8 406.5 227.5 406.8 228.2 407.1 228.9 407.3 229.6 407.6 230.3 407.8 231.0 407.8 231.7 407.6 232.4 407.6 233.1 407.3 233.8 406.9 234.5 406.7 235.2 406.2 235.9 405.7 236.6 405.2 237.3 405.0 238.0 404.7 238.7 404.3 239.4 404.2 240.1 403.9 240.8 403.8 241.5 403.9 242.3 403.8 243.0 403.6 243.7 403.7 244.4 403.4 245.1 403.3 245.8 403.3 246.5 403.0 247.2 403.0 247.9 403.0 248.6 402.9 249.3 403.2 250.0 403.4 250.7 403.7 251.4 403.8 252.1 403.8 252.8 404.1 253.5 404.3 254.2 404.4 254.9 404.8 255.6 404.9 256.3 404.9 257.0 405.1 257.7 404.9 258.4 405.1 259.1 405.0 259.9 404.9 260.6 404.8 261.3 404.6 262.0 404.6 262.7 404.7 263.4 404.5 264.1 404.2 264.8 404.2 265.5 403.9 266.2 403.8 266.9 403.8 267.6 403.6 268.3 403.5 269.0 403.3 269.7 403.3 270.4 403.0 271.1 403.0 271.8 402.7 272.5 402.6 273.2 402.5 273.7 402.5 273.9 402.1 274.6 401.0 275.3 399.9 276.0 399.1 276.3 398.7 276.7 401.3 277.5 405.0 278.2 408.6 278.9 412.1 279.1 413.4 279.6 412.3 280.3 410.4 281.0 408.7 281.7 407.1 282.4 405.3 282.6 404.8 283.1 410.3 283.8 418.8 284.5 427.2 285.2 435.6 285.9 444.0 286.6 452.2 286.6 452.3 287.3 446.4 288.0 440.5 288.7 434.8 289.4 429.0 290.1 423.0 290.1 423.1 290.8 419.7 291.5 416.4 291.8 415.1 292.2 414.8 292.9 414.4 293.6 413.9 293.6 413.9 294.3 408.8 295.1 403.7 295.8 398.5 295.8 398.5 296.5 400.2 297.2 401.9 297.9 403.6 297.9 403.5 298.6 403.1 299.3 402.9 300.0 402.5 300.7 402.0 301.4 401.6 302.1 401.0 302.1 401.0 302.8 401.5 303.5 401.9 304.2 402.1 304.9 402.5 305.4 402.8 305.6 402.6 306.3 402.2 307.0 401.8 307.7 401.4 308.4 400.9 309.1 400.3 309.8 400.0 310.5 399.9 311.2 399.7 311.9 399.8 312.7 399.7 313.4 399.4 314.1 399.5 314.8 399.6 315.5 399.7 316.2 399.7 316.9 400.0 317.6 400.1 318.3 400.6 319.0 400.7 319.7 401.3 320.4 401.7 321.1 402.0" fill="none" stroke="#1818b8" stroke-width="0.6" stroke-linejoin="round"/>
<path d="M39.5 402.1L40.2 402.4 40.9 402.6 41.6 402.6 42.3 402.8 43.0 402.7 43.7 402.8 44.4 402.8 45.1 403.0 45.8 403.1 46.5 402.9 47.2 403.1 47.9 403.2 48.7 403.4 49.4 403.5 50.1 403.6 50.8 403.7 51.5 404.0 52.2 404.0 52.9 403.9 53.6 404.0 54.3 403.9 55.0 403.9 55.7 403.7 56.4 403.9 57.1 403.6 57.8 403.6 58.5 403.3 58.5 403.5 59.2 403.9 59.9 404.5 60.6 404.9 60.9 405.0 61.3 404.8 62.0 404.3 62.7 403.6 62.7 403.7 63.4 401.5 64.1 399.2 64.4 398.4 64.8 400.6 65.5 403.7 65.8 404.9 66.3 406.8 67.0 409.9 67.7 412.9 67.9 413.9 68.4 413.8 69.1 413.7 69.8 413.7 70.5 413.5 71.2 413.4 71.2 413.4 71.9 423.3 72.6 433.0 73.3 442.5 73.8 449.1 74.0 446.2 74.7 437.4 75.4 428.6 76.1 419.9 76.1 420.1 76.8 411.5 77.5 403.1 77.5 403.0 78.2 402.1 78.7 401.6 78.9 402.9 79.6 406.4 80.3 410.2 80.3 410.0 81.0 407.6 81.7 405.0 82.4 402.3 83.1 399.6 83.9 397.0 84.6 394.3 84.8 393.4 85.3 394.6 86.0 396.5 86.7 397.9 87.4 399.5 87.4 399.5 88.1 399.5 88.8 399.5 89.5 399.2 90.2 399.2 90.9 399.2 91.4 399.1 91.6 398.7 92.3 398.3 93.0 397.7 93.7 397.4 94.4 396.9 95.1 396.4 95.8 396.0 96.5 395.7 97.2 395.3 97.9 394.9 98.6 395.0 99.3 395.0 100.0 395.0 100.7 395.1 101.5 395.4 102.2 395.6 102.9 395.9 103.6 396.3 104.3 396.7 105.0 397.3 105.7 397.6 106.4 398.2 107.1 398.6 107.8 399.2 108.5 399.4 109.2 400.0 109.9 400.5 110.6 400.9 111.3 401.2 112.0 401.8 112.7 402.1 113.4 402.4 114.1 403.0 114.8 403.3 115.5 403.7 116.2 404.4 116.9 404.8 117.6 405.3 118.3 405.6 119.1 406.0 119.8 406.4 120.5 406.7 121.2 407.1 121.9 407.3 122.6 407.4 123.3 407.5 124.0 407.7 124.7 407.4 125.4 407.3 126.1 407.1 126.8 407.0 127.5 406.7 128.2 406.3 128.9 406.0 129.6 405.8 130.3 405.5 131.0 405.2 131.7 405.0 132.4 404.8 133.1 404.5 133.8 404.3 134.5 403.7 135.2 403.1 135.9 402.6 136.7 401.8 137.4 401.4 138.1 400.6 138.8 400.2 139.5 399.7 140.2 399.3 140.9 399.2 141.6 399.2 142.3 399.2 143.0 399.4 143.7 400.0 144.4 400.4 145.1 400.7 145.8 401.2 146.5 401.3 147.2 401.7 147.9 401.8 148.6 402.0 149.3 402.1 150.0 402.1 150.7 402.1 151.4 401.9 152.1 401.9 152.8 401.6 153.5 401.5 154.3 401.6 155.0 401.3 155.7 401.3 156.4 401.1 157.1 401.0 157.8 401.0 158.5 401.0 159.2 401.2 159.9 401.3 160.6 401.4 161.3 401.5 162.0 401.4 162.7 401.6 163.4 401.6 164.1 401.8 164.8 401.7 165.5 401.7 166.2 402.0 166.9 401.9 167.6 402.1 168.3 402.2 169.0 402.2 169.7 402.4 170.4 402.4 171.1 402.6 171.9 402.7 172.6 402.7 173.3 403.1 173.3 403.1 174.0 403.9 174.4 404.2 174.7 401.7 175.4 394.4 176.1 387.1 176.3 384.5 176.8 405.6 177.5 437.1 178.2 468.4 178.9 500.0 179.6 531.4 179.8 541.9 180.3 521.9 181.0 491.8 181.7 461.6 182.4 431.6 183.1 401.4 183.8 371.2 183.8 371.3 184.5 384.6 185.2 397.6 185.5 402.0 185.9 403.8 186.4 405.7 186.6 404.8 187.3 401.9 188.0 399.2 188.5 397.3 188.7 398.4 189.5 400.9 190.2 403.6 190.2 403.6 190.9 403.3 191.6 402.7 192.0 402.5 192.3 402.3 193.0 402.1 193.7 401.9 194.4 401.7 195.1 401.3 195.8 400.8 196.5 400.4 197.2 399.9 197.9 399.5 198.6 399.1 199.3 398.6 200.0 398.0 200.7 397.4 201.4 397.0 202.1 396.4 202.8 396.0 203.5 395.6 204.2 395.3 204.9 395.1 205.6 394.7 206.3 394.9 207.1 394.8 207.8 394.9 208.5 394.9 209.2 395.3 209.9 395.6 210.6 395.9 211.3 396.3 212.0 396.7 212.7 397.4 213.4 397.9 214.1 398.5 214.8 398.9 215.5 399.7 216.2 400.2 216.9 400.4 217.6 400.9 218.3 401.4 219.0 401.8 219.7 402.0 220.4 402.4 221.1 402.9 221.8 403.2 222.5 403.7 223.2 404.0 223.9 404.4 224.7 404.9 225.4 405.1 226.1 405.7 226.8 406.1 227.5 406.3 228.2 406.8 228.9 407.1 229.6 407.1 230.3 407.3 231.0 407.1 231.7 407.1 232.4 407.1 233.1 406.9 233.8 406.4 234.5 406.1 235.2 405.8 235.9 405.2 236.6 405.0 237.3 404.4 238.0 404.2 238.7 403.6 239.4 403.4 240.1 403.4 240.8 403.3 241.5 403.1 242.3 403.0 243.0 402.9 243.7 403.0 244.4 402.7 245.1 402.7 245.8 402.4 246.5 402.1 247.2 402.0 247.9 402.1 248.6 402.1 249.3 402.2 250.0 402.4 250.7 402.6 251.4 402.7 252.1 403.0 252.8 403.2 253.5 403.4 254.2 403.6 254.9 403.9 255.6 404.2 256.3 404.4 257.0 404.5 257.7 404.3 258.4 404.5 259.1 404.4 259.9 404.5 260.6 404.4 261.3 404.4 262.0 404.2 262.7 404.2 263.4 404.2 264.1 403.9 264.8 403.8 265.5 403.7 266.2 403.5 266.9 403.5 267.6 403.3 268.3 403.1 269.0 403.1 269.7 402.9 270.4 402.9 271.1 402.8 271.8 402.6 272.5 402.4 273.2 402.4 273.9 402.3 274.4 402.1 274.6 401.8 275.3 400.8 276.0 399.8 276.7 398.9 277.0 398.5 277.5 401.0 278.2 404.6 278.9 408.2 279.6 411.6 279.8 412.7 280.3 411.7 281.0 409.9 281.7 408.1 282.4 406.3 283.1 404.4 283.3 403.7 283.8 407.9 284.5 413.7 285.2 419.5 285.9 425.5 286.6 431.2 287.3 437.1 287.3 437.1 288.0 434.1 288.7 431.0 289.4 427.9 290.1 424.9 290.8 421.7 290.8 421.9 291.5 418.4 292.2 415.0 292.5 414.0 292.9 413.7 293.6 413.3 294.3 412.8 294.3 412.6 295.1 407.5 295.8 402.5 296.5 397.3 296.5 397.2 297.2 399.1 297.9 400.8 298.6 402.1 298.6 402.2 299.3 401.6 300.0 401.3 300.7 400.7 301.4 400.2 302.1 399.8 302.8 399.5 302.8 399.3 303.5 399.9 304.2 400.1 304.9 400.6 305.6 401.0 306.1 401.1 306.3 401.0 307.0 400.4 307.7 400.0 308.4 399.5 309.1 399.0 309.8 398.9 310.5 398.8 311.2 398.7 311.9 398.5 312.7 398.5 313.4 398.6 314.1 398.5 314.8 398.6 315.5 398.6 316.2 398.7 316.9 398.9 317.6 399.1 318.3 399.3 319.0 399.5 319.7 400.0 320.4 400.3 321.1 400.7" fill="none" stroke="#1818b8" stroke-width="0.6" stroke-linejoin="round"/>
<path d="M39.5 404.5L40.2 404.4 40.9 404.1 41.6 403.8 42.3 403.5 43.0 403.1 43.7 403.0 44.4 402.4 45.1 402.0 45.8 401.8 46.5 401.5 47.2 401.0 47.9 400.7 48.7 400.6 49.4 400.2 50.1 400.0 50.8 399.9 51.5 400.1 52.2 400.4 52.9 400.7 53.6 401.0 54.3 401.1 55.0 401.4 55.7 401.8 56.4 402.1 57.1 402.3 57.8 402.5 58.5 402.6 59.2 402.8 59.2 402.8 59.9 403.7 60.6 404.5 61.3 405.3 61.6 405.6 62.0 405.4 62.7 405.2 63.4 404.8 63.4 404.9 64.1 402.6 64.8 400.5 65.1 399.7 65.5 401.9 66.3 405.3 66.5 406.5 67.0 408.6 67.7 411.5 68.4 414.4 68.6 415.5 69.1 415.7 69.8 415.6 70.5 415.5 71.2 415.5 71.9 415.5 71.9 415.4 72.6 422.3 73.3 429.4 74.0 436.5 74.5 441.2 74.7 439.3 75.4 433.4 76.1 427.9 76.8 422.0 76.8 422.0 77.5 413.6 78.2 405.0 78.2 404.9 78.9 403.8 79.4 403.1 79.6 404.4 80.3 407.8 81.0 411.4 81.0 411.3 81.7 408.6 82.4 406.0 83.1 403.2 83.9 400.4 84.6 397.8 85.3 395.0 85.5 394.0 86.0 395.4 86.7 396.9 87.4 398.7 88.1 400.2 88.1 400.4 88.8 400.6 89.5 400.8 90.2 400.9 90.9 401.1 91.6 401.4 92.1 401.4 92.3 401.3 93.0 401.2 93.7 401.2 94.4 401.0 95.1 400.8 95.8 400.6 96.5 400.3 97.2 400.3 97.9 400.2 98.6 400.4 99.3 400.4 100.0 400.4 100.7 400.6 101.5 400.8 102.2 401.0 102.9 401.2 103.6 401.3 104.3 401.5 105.0 401.7 105.7 401.9 106.4 402.2 107.1 402.5 107.8 402.6 108.5 402.9 109.2 403.2 109.9 403.5 110.6 403.5 111.3 403.7 112.0 403.7 112.7 403.8 113.4 404.0 114.1 404.2 114.8 404.2 115.5 404.6 116.2 404.6 116.9 405.0 117.6 405.3 118.3 405.5 119.1 405.9 119.8 406.1 120.5 406.1 121.2 406.2 121.9 406.4 122.6 406.6 123.3 406.6 124.0 406.7 124.7 406.6 125.4 406.4 126.1 406.2 126.8 406.0 127.5 405.8 128.2 405.6 128.9 405.3 129.6 405.0 130.3 404.8 131.0 404.5 131.7 404.3 132.4 404.3 133.1 404.0 133.8 403.6 134.5 403.2 135.2 402.6 135.9 402.4 136.7 401.7 137.4 401.3 138.1 400.6 138.8 400.4 139.5 399.9 140.2 399.7 140.9 399.4 141.6 399.3 142.3 399.2 143.0 399.4 143.7 399.4 144.4 399.8 145.1 399.9 145.8 400.1 146.5 400.3 147.2 400.6 147.9 400.9 148.6 401.1 149.3 401.1 150.0 401.2 150.7 401.4 151.4 401.2 152.1 401.4 152.8 401.5 153.5 401.4 154.3 401.5 155.0 401.5 155.7 401.3 156.4 401.3 157.1 401.7 157.8 401.8 158.5 402.1 159.2 402.2 159.9 402.6 160.6 402.8 161.3 403.0 162.0 403.2 162.7 403.4 163.4 403.6 164.1 403.7 164.8 404.0 165.5 404.2 166.2 404.5 166.9 404.9 167.6 405.1 168.3 405.3 169.0 405.2 169.7 405.0 170.4 405.0 171.1 404.6 171.9 404.7 172.6 404.6 173.3 404.4 173.3 404.4 174.0 404.7 174.4 405.0 174.7 403.1 175.4 396.7 176.1 390.3 176.3 388.0 176.8 401.9 177.5 422.9 178.2 443.8 178.9 464.3 179.6 485.1 179.8 492.2 180.3 477.2 181.0 454.8 181.7 432.4 182.4 410.2 183.1 387.9 183.8 365.5 183.8 365.5 184.5 381.2 185.2 396.7 185.5 402.0 185.9 403.8 186.4 406.0 186.6 405.1 187.3 402.4 188.0 399.9 188.5 398.2 188.7 399.2 189.5 402.1 190.2 405.0 190.2 405.1 190.9 405.1 191.6 404.7 192.0 404.6 192.3 404.5 193.0 404.5 193.7 404.2 194.4 403.7 195.1 403.4 195.8 403.0 196.5 402.7 197.2 402.5 197.9 402.1 198.6 401.8 199.3 401.4 200.0 401.1 200.7 400.7 201.4 400.5 202.1 399.9 202.8 399.6 203.5 399.3 204.2 399.4 204.9 399.6 205.6 399.7 206.3 399.9 207.1 400.1 207.8 400.5 208.5 400.8 209.2 400.9 209.9 401.3 210.6 401.6 211.3 401.9 212.0 402.2 212.7 402.5 213.4 402.8 214.1 403.2 214.8 403.8 215.5 403.9 216.2 404.1 216.9 404.2 217.6 404.3 218.3 404.5 219.0 404.6 219.7 404.8 220.4 404.9 221.1 405.2 221.8 405.3 222.5 405.5 223.2 405.8 223.9 406.2 224.7 406.5 225.4 406.8 226.1 407.2 226.8 407.5 227.5 407.9 228.2 408.2 228.9 408.2 229.6 408.2 230.3 408.1 231.0 408.1 231.7 407.9 232.4 407.7 233.1 407.1 233.8 406.7 234.5 406.1 235.2 405.7 235.9 405.1 236.6 404.6 237.3 404.0 238.0 403.6 238.7 403.0 239.4 402.8 240.1 402.7 240.8 402.4 241.5 402.1 242.3 401.7 243.0 401.7 243.7 401.4 244.4 401.1 245.1 400.9 245.8 400.6 246.5 400.3 247.2 400.1 247.9 399.8 248.6 399.7 249.3 399.6 250.0 399.8 250.7 399.8 251.4 400.1 252.1 400.3 252.8 400.6 253.5 401.0 254.2 401.2 254.9 401.3 255.6 401.7 256.3 401.8 257.0 401.9 257.7 402.1 258.4 402.1 259.1 402.3 259.9 402.2 260.6 402.2 261.3 402.1 262.0 402.1 262.7 402.1 263.4 402.2 264.1 402.2 264.8 402.3 265.5 402.6 266.2 402.6 266.9 402.5 267.6 402.6 268.3 402.6 269.0 402.7 269.7 403.0 270.4 402.9 271.1 403.0 271.8 403.1 272.5 403.3 273.2 403.1 273.2 403.3 273.9 402.3 274.6 401.0 275.3 400.0 275.8 399.3 276.0 400.6 276.7 405.1 277.5 409.6 278.2 414.0 278.6 416.9 278.9 416.0 279.6 413.2 280.3 410.3 281.0 407.5 281.7 404.8 282.1 402.9 282.4 405.5 283.1 412.6 283.8 420.0 284.5 427.2 285.2 434.5 285.9 441.8 286.1 444.0 286.6 441.1 287.3 436.2 288.0 431.5 288.7 427.0 289.4 422.0 289.7 420.6 290.1 418.2 290.8 414.9 291.3 412.8 291.5 412.7 292.2 412.4 292.9 411.8 293.2 411.8 293.6 408.3 294.3 403.1 295.1 398.1 295.3 396.5 295.8 397.6 296.5 399.3 297.2 401.2 297.4 401.7 297.9 401.6 298.6 401.3 299.3 401.0 300.0 400.7 300.7 400.4 301.4 399.9 301.6 399.9 302.1 400.1 302.8 400.7 303.5 401.3 304.2 401.8 304.9 402.0 304.9 402.0 305.6 401.6 306.3 401.4 307.0 401.2 307.7 400.8 308.4 400.4 309.1 399.9 309.8 399.6 310.5 399.2 311.2 399.2 311.9 399.0 312.7 398.8 313.4 398.7 314.1 398.7 314.8 398.5 315.5 398.5 316.2 398.6 316.9 398.5 317.6 398.8 318.3 398.9 319.0 399.2 319.7 399.6 320.4 400.0 321.1 400.1" fill="none" stroke="#1818b8" stroke-width="0.6" stroke-linejoin="round"/>
<path d="M39.5 403.5L40.2 403.7 40.9 404.0 41.6 404.1 42.3 404.4 43.0 404.5 43.7 404.5 44.4 404.8 45.1 404.8 45.8 405.0 46.5 405.1 47.2 405.2 47.9 405.5 48.7 405.6 49.4 405.8 50.1 406.1 50.8 406.3 51.5 406.6 52.2 406.7 52.9 406.6 53.6 406.5 54.3 406.4 55.0 406.3 55.7 406.3 56.4 406.0 57.1 405.9 57.8 405.8 58.5 405.6 59.0 405.3 59.2 405.5 59.9 405.9 60.6 406.5 61.3 406.7 61.3 407.0 62.0 406.2 62.7 405.6 63.2 405.5 63.4 404.9 64.1 402.8 64.8 400.7 64.8 400.5 65.5 404.2 66.3 407.8 66.3 407.9 67.0 410.9 67.7 414.3 68.4 417.5 68.4 417.4 69.1 417.5 69.8 417.6 70.5 417.8 71.2 418.1 71.6 418.1 71.9 420.5 72.6 427.4 73.3 434.5 74.0 441.2 74.2 443.6 74.7 440.0 75.4 434.5 76.1 428.8 76.6 425.1 76.8 422.2 77.5 413.5 78.0 407.8 78.2 407.4 78.9 406.3 79.2 405.7 79.6 408.0 80.3 411.3 80.8 413.8 81.0 412.8 81.7 409.8 82.4 407.0 83.1 404.2 83.9 401.4 84.6 398.6 85.3 395.9 85.3 395.8 86.0 397.6 86.7 399.0 87.4 400.6 87.8 401.8 88.1 402.0 88.8 402.1 89.5 402.5 90.2 402.6 90.9 403.0 91.6 403.1 91.8 403.1 92.3 403.0 93.0 402.8 93.7 402.8 94.4 402.6 95.1 402.6 95.8 402.3 96.5 402.2 97.2 402.2 97.9 402.2 98.6 402.1 99.3 402.2 100.0 402.2 100.7 402.3 101.5 402.3 102.2 402.4 102.9 402.3 103.6 402.5 104.3 402.6 105.0 402.8 105.7 403.0 106.4 403.1 107.1 403.1 107.8 403.4 108.5 403.5 109.2 403.7 109.9 404.0 110.6 404.3 111.3 404.5 112.0 404.8 112.7 405.1 113.4 405.6 114.1 406.1 114.8 406.7 115.5 407.0 116.2 407.6 116.9 408.0 117.6 408.7 118.3 409.3 119.1 409.9 119.8 410.3 120.5 410.6 121.2 410.9 121.9 411.4 122.6 411.5 123.3 411.4 124.0 411.4 124.7 411.2 125.4 410.8 126.1 410.6 126.8 410.4 127.5 409.9 128.2 409.6 128.9 409.1 129.6 408.9 130.3 408.4 131.0 408.1 131.7 407.8 132.4 407.6 133.1 407.2 133.8 406.8 134.5 406.4 135.2 405.7 135.9 405.2 136.7 404.7 137.4 404.1 138.1 403.4 138.8 403.0 139.5 402.5 140.2 402.0 140.9 401.9 141.6 401.5 142.3 401.5 143.0 401.5 143.7 401.4 144.4 401.5 145.1 401.5 145.8 401.8 146.5 402.2 147.2 402.4 147.9 402.6 148.6 402.8 149.3 403.0 150.0 403.1 150.7 403.1 151.4 403.2 152.1 403.2 152.8 403.1 153.5 403.2 154.3 403.4 155.0 403.4 155.7 403.4 156.4 403.3 157.1 403.2 157.8 403.3 158.5 403.3 159.2 403.3 159.9 403.3 160.6 403.3 161.3 403.3 162.0 403.3 162.7 403.4 163.4 403.4 164.1 403.3 164.8 403.2 165.5 403.2 166.2 403.4 166.9 403.3 167.6 403.3 168.3 403.3 169.0 403.5 169.7 403.4 170.4 403.7 171.1 403.8 171.9 403.9 172.6 404.0 173.3 404.1 173.3 404.2 174.0 404.8 174.4 405.3 174.7 402.2 175.4 393.3 176.1 384.4 176.3 381.5 176.8 406.7 177.5 444.8 178.2 482.7 178.9 520.5 179.6 558.6 179.8 571.1 180.3 546.5 181.0 509.5 181.7 472.8 182.4 435.9 183.1 399.0 183.8 362.2 183.8 362.2 184.5 380.3 185.2 398.3 185.5 404.4 185.9 406.5 186.4 408.3 186.6 407.4 187.3 405.0 188.0 402.4 188.5 400.8 188.7 401.8 189.5 404.8 190.2 407.7 190.2 407.5 190.9 407.3 191.6 407.2 192.0 407.0 192.3 407.0 193.0 406.7 193.7 406.5 194.4 406.3 195.1 406.0 195.8 405.7 196.5 405.4 197.2 405.2 197.9 404.7 198.6 404.3 199.3 404.0 200.0 403.5 200.7 403.3 201.4 403.0 202.1 402.5 202.8 402.2 203.5 401.9 204.2 401.4 204.9 401.2 205.6 400.8 206.3 400.7 207.1 400.4 207.8 400.1 208.5 400.3 209.2 400.0 209.9 400.3 210.6 400.0 211.3 400.1 212.0 400.3 212.7 400.4 213.4 400.6 214.1 400.8 214.8 400.9 215.5 401.0 216.2 401.4 216.9 402.2 217.6 402.6 218.3 403.2 219.0 403.7 219.7 404.2 220.4 404.9 221.1 405.5 221.8 406.0 222.5 406.7 223.2 407.4 223.9 408.0 224.7 408.6 225.4 409.5 226.1 410.0 226.8 410.7 227.5 411.3 228.2 411.6 228.9 411.8 229.6 411.9 230.3 411.9 231.0 411.8 231.7 411.8 232.4 411.5 233.1 411.2 233.8 410.8 234.5 410.4 235.2 410.1 235.9 409.4 236.6 409.1 237.3 408.7 238.0 408.3 238.7 407.8 239.4 407.6 240.1 407.3 240.8 407.3 241.5 407.0 242.3 407.1 243.0 406.9 243.7 407.0 244.4 407.1 245.1 407.0 245.8 407.1 246.5 407.1 247.2 407.2 247.9 407.2 248.6 407.3 249.3 407.5 250.0 407.3 250.7 407.7 251.4 407.4 252.1 407.0 252.8 406.9 253.5 406.7 254.2 406.4 254.9 406.1 255.6 405.8 256.3 405.7 257.0 405.5 257.7 405.3 258.4 405.0 259.1 404.7 259.9 404.4 260.6 404.0 261.3 403.9 262.0 403.6 262.7 403.5 263.4 403.6 264.1 403.8 264.8 404.1 265.5 404.2 266.2 404.3 266.9 404.6 267.6 404.5 268.3 404.8 269.0 405.0 269.7 405.1 270.4 405.2 271.1 405.5 271.8 405.5 272.5 405.8 273.2 405.9 273.9 406.1 273.9 406.0 274.6 404.9 275.3 404.0 276.0 402.8 276.5 402.2 276.7 403.3 277.5 406.7 278.2 410.4 278.9 413.8 279.3 416.3 279.6 415.6 280.3 413.9 281.0 412.1 281.7 410.1 282.4 408.4 282.8 407.1 283.1 409.7 283.8 417.5 284.5 425.4 285.2 433.2 285.9 440.9 286.6 448.7 286.8 451.4 287.3 447.6 288.0 442.1 288.7 436.7 289.4 431.3 290.1 425.8 290.4 424.0 290.8 421.6 291.5 418.2 292.0 416.0 292.2 415.7 292.9 415.2 293.6 414.6 293.9 414.3 294.3 410.9 295.1 405.6 295.8 400.4 296.0 398.4 296.5 399.7 297.2 401.2 297.9 402.8 298.1 403.5 298.6 403.3 299.3 403.1 300.0 402.9 300.7 402.8 301.4 402.4 302.1 402.1 302.3 402.0 302.8 402.6 303.5 403.1 304.2 403.7 304.9 404.3 305.6 404.7 305.6 404.9 306.3 404.6 307.0 404.3 307.7 404.2 308.4 403.7 309.1 403.6 309.8 403.2 310.5 402.9 311.2 402.4 311.9 402.2 312.7 401.8 313.4 401.6 314.1 401.3 314.8 401.2 315.5 401.2 316.2 401.0 316.9 401.0 317.6 401.0 318.3 400.9 319.0 401.2 319.7 401.3 320.4 401.6 321.1 401.7" fill="none" stroke="#1818b8" stroke-width="0.6" stroke-linejoin="round"/>
<rect x="375.4" y="337.6" width="280.9" height="275.1" fill="none" stroke="#7c7c7c" stroke-width="1"/>
<text x="372.2" y="618.0" font-size="12" text-anchor="end" font-weight="normal" fill="#000" >-6</text>
<text x="372.2" y="583.6" font-size="12" text-anchor="end" font-weight="normal" fill="#000" >-5</text>
<text x="372.2" y="549.2" font-size="12" text-anchor="end" font-weight="normal" fill="#000" >-4</text>
<text x="372.2" y="514.8" font-size="12" text-anchor="end" font-weight="normal" fill="#000" >-3</text>
<text x="372.2" y="480.5" font-size="12" text-anchor="end" font-weight="normal" fill="#000" >-2</text>
<text x="372.2" y="446.1" font-size="12" text-anchor="end" font-weight="normal" fill="#000" >-1</text>
<text x="372.2" y="411.7" font-size="12" text-anchor="end" font-weight="normal" fill="#000" >0</text>
<text x="372.2" y="377.3" font-size="12" text-anchor="end" font-weight="normal" fill="#000" >1</text>
<text x="372.2" y="342.9" font-size="12" text-anchor="end" font-weight="normal" fill="#000" >2</text>
<text x="373.4" y="630.0" font-size="12" text-anchor="middle" font-weight="normal" fill="#000" >-0.6</text>
<text x="420.2" y="630.0" font-size="12" text-anchor="middle" font-weight="normal" fill="#000" >-0.4</text>
<text x="467.0" y="630.0" font-size="12" text-anchor="middle" font-weight="normal" fill="#000" >-0.2</text>
<text x="510.6" y="630.0" font-size="12" text-anchor="middle" font-weight="normal" fill="#000" >0</text>
<text x="560.7" y="630.0" font-size="12" text-anchor="middle" font-weight="normal" fill="#000" >0.2</text>
<text x="607.5" y="630.0" font-size="12" text-anchor="middle" font-weight="normal" fill="#000" >0.4</text>
<text x="654.3" y="630.0" font-size="12" text-anchor="middle" font-weight="normal" fill="#000" >0.6</text>
<path d="M375.4 612.7h3M656.3 612.7h-3M375.4 578.3h3M656.3 578.3h-3M375.4 543.9h3M656.3 543.9h-3M375.4 509.5h3M656.3 509.5h-3M375.4 475.2h3M656.3 475.2h-3M375.4 440.8h3M656.3 440.8h-3M375.4 406.4h3M656.3 406.4h-3M375.4 372.0h3M656.3 372.0h-3M375.4 337.6h3M656.3 337.6h-3M375.4 612.7v-3M375.4 337.6v3M422.2 612.7v-3M422.2 337.6v3M469.0 612.7v-3M469.0 337.6v3M515.9 612.7v-3M515.9 337.6v3M562.7 612.7v-3M562.7 337.6v3M609.5 612.7v-3M609.5 337.6v3M656.3 612.7v-3M656.3 337.6v3" stroke="#7c7c7c" stroke-width="1" fill="none"/>
<text x="515.8" y="644.5" font-size="12" text-anchor="middle" font-weight="normal" fill="#000" >Time (s)</text>
<text x="0" y="0" font-size="12" text-anchor="middle" font-weight="normal" fill="#000" transform="translate(354.4 476) rotate(-90)">Amplitude (pT)</text>
<text x="378.4" y="354.2" font-size="12" text-anchor="start" font-weight="bold" fill="#000" >(C)</text>
<path d="M375.4 404.6L376.1 404.7 376.8 404.8 377.5 404.5 378.2 404.5 378.9 404.7 379.6 404.6 380.3 404.6 381.0 404.5 381.7 404.4 382.4 404.5 383.1 404.3 383.8 404.5 384.5 404.4 385.2 404.2 385.9 404.3 386.6 404.3 387.3 404.3 388.0 404.4 388.7 404.6 389.4 404.9 390.1 405.0 390.8 405.3 391.6 405.8 392.3 406.4 393.0 407.1 393.7 407.8 394.4 408.3 395.1 408.8 395.8 409.3 396.5 409.4 397.2 409.2 397.9 408.7 398.6 408.1 399.3 407.5 400.0 406.9 400.7 406.0 401.4 405.4 402.1 404.8 402.8 404.3 403.5 403.9 404.2 403.5 404.9 403.1 405.6 403.1 406.3 402.9 407.0 403.0 407.7 402.8 408.4 403.1 409.1 403.3 409.8 403.5 410.5 403.7 411.2 404.1 411.9 404.2 412.6 404.6 413.3 404.8 413.8 404.9 414.0 404.3 414.7 403.0 415.4 401.5 415.9 400.7 416.1 401.4 416.8 404.0 417.3 405.8 417.5 407.4 418.2 412.6 418.9 418.1 419.6 423.3 420.3 428.4 421.0 433.8 421.7 439.0 422.0 440.9 422.5 436.7 423.2 430.2 423.9 423.8 424.6 417.4 425.3 411.3 425.5 409.3 426.0 406.4 426.7 402.1 426.9 400.7 427.4 402.2 428.1 404.4 428.8 406.4 429.0 407.2 429.5 406.7 430.2 406.3 430.9 405.5 431.3 405.2 431.6 405.3 432.3 405.3 433.0 405.1 433.7 405.2 434.4 405.0 435.1 405.2 435.8 405.2 436.5 405.3 437.2 405.5 437.9 405.6 438.6 405.7 439.3 405.7 440.0 405.8 440.7 406.1 441.4 406.1 442.1 406.3 442.8 406.6 443.5 406.7 444.2 406.7 444.9 407.0 445.6 407.2 446.3 407.2 447.0 407.2 447.7 407.3 448.4 407.5 449.1 407.4 449.8 407.3 450.5 407.3 451.2 407.3 451.9 407.3 452.6 407.1 453.3 406.9 454.1 406.8 454.8 406.7 455.5 406.3 456.2 406.0 456.9 405.8 457.6 405.5 458.3 405.4 459.0 405.3 459.7 405.1 460.4 405.0 461.1 404.9 461.8 404.6 462.5 404.4 463.2 404.1 463.9 403.9 464.6 403.7 465.3 403.5 466.0 403.4 466.7 403.0 467.4 402.7 468.1 402.5 468.8 402.3 469.5 402.0 470.2 401.8 470.9 401.5 471.6 401.4 472.3 401.2 473.0 401.0 473.7 400.8 474.4 400.8 475.1 400.8 475.8 400.8 476.5 401.0 477.2 401.3 477.9 401.3 478.6 401.5 479.3 401.9 480.0 402.0 480.7 402.3 481.4 402.6 482.1 402.8 482.8 402.9 483.5 403.4 484.2 403.6 485.0 403.9 485.7 404.3 486.4 404.8 487.1 405.6 487.8 406.3 488.5 407.5 489.2 408.6 489.9 409.8 490.6 410.3 491.3 410.3 492.0 409.7 492.7 408.9 493.4 407.6 494.1 406.2 494.8 405.1 495.5 404.3 496.2 403.4 496.9 402.8 497.6 402.5 498.3 402.0 499.0 401.7 499.7 401.4 500.4 401.3 501.1 401.2 501.8 401.2 502.5 401.1 503.2 401.3 503.9 401.4 504.6 401.7 505.3 402.1 506.0 402.5 506.7 402.8 507.4 403.1 508.1 403.5 508.8 403.9 508.8 403.7 509.5 404.7 510.2 405.4 510.5 405.8 510.9 398.4 511.6 387.1 511.6 387.1 512.3 402.3 513.0 417.3 513.7 432.1 514.4 447.0 515.1 462.0 515.6 471.9 515.9 466.3 516.6 449.2 517.3 432.2 518.0 415.0 518.7 397.9 519.1 386.5 519.4 389.8 520.1 399.5 520.8 409.5 520.8 409.5 521.5 407.7 522.2 405.7 522.4 405.2 522.9 405.3 523.6 405.0 524.3 404.9 525.0 404.9 525.7 405.0 526.4 404.8 527.1 404.9 527.8 404.9 528.5 404.8 529.2 404.8 529.9 405.1 530.6 404.9 531.3 405.2 532.0 405.2 532.7 405.3 533.4 405.4 534.1 405.5 534.8 405.4 535.5 405.6 536.2 405.8 536.9 406.0 537.6 406.2 538.3 406.2 539.0 406.6 539.7 406.9 540.4 406.9 541.1 407.1 541.8 407.3 542.5 407.5 543.2 407.6 543.9 407.7 544.6 407.9 545.3 407.9 546.0 407.8 546.7 407.7 547.5 407.5 548.2 407.2 548.9 406.9 549.6 406.4 550.3 406.1 551.0 405.5 551.7 405.5 552.4 405.2 553.1 405.1 553.8 404.9 554.5 404.9 555.2 404.9 555.9 404.9 556.6 404.9 557.3 404.9 558.0 404.9 558.7 405.1 559.4 405.1 560.1 405.1 560.8 405.1 561.5 405.1 562.2 405.0 562.9 404.8 563.6 404.4 564.3 403.9 565.0 403.5 565.7 403.0 566.4 402.6 567.1 402.4 567.8 402.1 568.5 402.2 569.2 402.1 569.9 401.9 570.6 402.0 571.3 402.2 572.0 402.2 572.7 402.4 573.4 402.5 574.1 402.7 574.8 403.0 575.5 403.4 576.2 403.6 576.9 403.8 577.6 404.2 578.4 404.6 579.1 405.0 579.8 405.8 580.5 406.5 581.2 407.2 581.9 408.3 582.6 409.2 583.3 410.3 584.0 410.9 584.7 411.2 585.4 411.1 586.1 410.7 586.8 409.8 587.5 408.9 588.2 407.7 588.9 406.4 589.6 405.4 590.3 404.7 591.0 404.0 591.7 403.3 592.4 402.8 593.1 402.5 593.8 402.2 594.5 402.0 595.2 401.7 595.9 401.8 596.6 401.6 597.3 401.5 598.0 401.7 598.7 402.1 599.4 402.4 600.1 402.8 600.8 402.9 601.3 403.1 601.5 402.6 602.2 400.5 602.9 398.5 603.6 396.4 603.6 396.5 604.3 400.5 605.0 404.4 605.0 404.3 605.7 410.3 606.4 416.1 607.1 421.9 607.8 427.8 608.5 433.5 609.2 439.3 609.5 441.2 610.0 437.1 610.7 431.0 611.4 424.7 612.1 418.8 612.8 412.6 613.2 408.4 613.5 407.1 614.2 403.0 614.6 400.2 614.9 401.2 615.6 403.6 616.3 406.3 616.5 407.1 617.0 406.6 617.7 405.9 618.4 405.3 618.8 405.1 619.1 405.0 619.8 405.0 620.5 404.9 621.2 405.0 621.9 405.0 622.6 404.8 623.3 404.8 624.0 404.8 624.7 404.8 625.4 404.6 626.1 404.8 626.8 404.6 627.5 404.8 628.2 404.9 628.9 405.0 629.6 404.9 630.3 405.0 631.0 405.3 631.7 405.4 632.4 405.5 633.1 405.8 633.8 406.2 634.5 406.6 635.2 407.0 635.9 407.6 636.6 408.0 637.3 408.5 638.0 408.6 638.7 409.0 639.4 409.5 640.1 409.6 640.9 409.9 641.6 410.3 642.3 410.2 643.0 410.5 643.7 410.6 644.4 410.6 645.1 410.4 645.8 410.3 646.5 410.1 647.2 409.8 647.9 409.5 648.6 409.2 649.3 409.0 650.0 408.5 650.7 408.3 651.4 408.0 652.1 407.7 652.8 407.3 653.5 407.3 654.2 407.1 654.9 406.7 655.6 406.5 656.3 406.4" fill="none" stroke="#000" stroke-width="0.5" stroke-linejoin="round"/>
<path d="M375.4 405.5L376.1 405.5 376.8 405.6 377.5 405.7 378.2 405.6 378.9 405.8 379.6 405.7 380.3 405.9 381.0 405.7 381.7 405.8 382.4 405.8 383.1 405.8 383.8 406.0 384.5 406.0 385.2 405.9 385.9 406.0 386.6 406.1 387.3 406.1 388.0 406.2 388.7 406.3 389.4 406.6 390.1 407.0 390.8 407.5 391.6 408.0 392.3 408.6 393.0 409.3 393.7 409.8 394.4 410.6 395.1 411.0 395.8 411.5 396.5 411.4 397.2 411.4 397.9 411.1 398.6 410.4 399.3 409.6 400.0 408.7 400.7 408.0 401.4 407.0 402.1 406.1 402.8 405.5 403.5 404.8 404.2 404.2 404.9 403.7 405.6 403.3 406.3 403.0 407.0 402.9 407.7 402.6 408.4 402.6 409.1 402.6 409.8 402.7 410.5 402.6 411.2 402.9 411.9 403.3 412.6 403.4 413.3 403.7 414.0 403.9 414.3 403.9 414.7 403.0 415.4 401.6 416.1 400.0 416.4 399.5 416.8 401.4 417.5 403.7 417.8 404.7 418.2 407.8 418.9 412.8 419.6 417.5 420.3 422.1 421.0 427.0 421.7 431.8 422.5 436.7 422.5 436.7 423.2 430.9 423.9 425.5 424.6 419.9 425.3 414.2 426.0 408.5 426.0 408.5 426.7 404.4 427.4 400.3 427.4 400.4 428.1 402.5 428.8 404.9 429.5 407.2 429.5 406.9 430.2 406.5 430.9 406.1 431.6 405.7 431.8 405.6 432.3 405.6 433.0 405.7 433.7 405.8 434.4 405.7 435.1 405.6 435.8 405.7 436.5 405.8 437.2 405.8 437.9 406.0 438.6 406.0 439.3 406.1 440.0 406.2 440.7 406.3 441.4 406.6 442.1 406.8 442.8 407.1 443.5 407.2 444.2 407.4 444.9 407.7 445.6 407.9 446.3 408.2 447.0 408.5 447.7 408.7 448.4 409.0 449.1 409.1 449.8 409.4 450.5 409.6 451.2 409.7 451.9 409.8 452.6 409.9 453.3 409.7 454.1 409.7 454.8 409.7 455.5 409.6 456.2 409.6 456.9 409.3 457.6 409.2 458.3 408.9 459.0 408.5 459.7 408.3 460.4 407.9 461.1 407.5 461.8 407.2 462.5 406.8 463.2 406.6 463.9 406.3 464.6 405.8 465.3 405.5 466.0 405.1 466.7 404.8 467.4 404.6 468.1 404.0 468.8 403.8 469.5 403.3 470.2 403.2 470.9 402.9 471.6 402.5 472.3 402.3 473.0 401.9 473.7 401.9 474.4 401.8 475.1 401.7 475.8 401.7 476.5 401.5 477.2 401.6 477.9 401.8 478.6 402.0 479.3 402.2 480.0 402.2 480.7 402.6 481.4 402.9 482.1 403.3 482.8 403.5 483.5 404.1 484.2 404.5 485.0 404.7 485.7 405.5 486.4 406.1 487.1 407.2 487.8 408.4 488.5 409.9 489.2 411.4 489.9 412.6 490.6 413.5 491.3 413.7 492.0 413.4 492.7 412.3 493.4 410.7 494.1 408.9 494.8 407.5 495.5 406.5 496.2 405.5 496.9 404.7 497.6 404.3 498.3 403.9 499.0 403.5 499.7 403.0 500.4 402.9 501.1 402.6 501.8 402.7 502.5 402.5 503.2 402.6 503.9 402.6 504.6 402.8 505.3 403.0 506.0 403.5 506.7 403.7 507.4 404.2 508.1 404.4 508.8 404.7 508.8 404.7 509.5 405.8 510.2 406.6 510.5 406.8 510.9 398.9 511.6 387.3 511.6 387.1 512.3 401.7 513.0 416.3 513.7 430.7 514.4 445.2 515.1 459.5 515.6 469.0 515.9 463.6 516.6 446.9 517.3 430.3 518.0 413.8 518.7 397.1 519.1 386.1 519.4 389.5 520.1 399.8 520.8 409.8 520.8 410.0 521.5 408.1 522.2 406.1 522.4 405.5 522.9 405.4 523.6 405.4 524.3 405.3 525.0 405.1 525.7 405.2 526.4 404.8 527.1 404.9 527.8 404.8 528.5 404.8 529.2 404.7 529.9 404.9 530.6 404.9 531.3 404.9 532.0 404.9 532.7 404.8 533.4 404.7 534.1 405.0 534.8 404.9 535.5 405.0 536.2 405.1 536.9 405.3 537.6 405.5 538.3 405.6 539.0 405.9 539.7 406.2 540.4 406.5 541.1 406.6 541.8 407.0 542.5 407.3 543.2 407.6 543.9 407.9 544.6 408.3 545.3 408.5 546.0 408.4 546.7 408.5 547.5 408.4 548.2 408.4 548.9 408.1 549.6 407.9 550.3 407.8 551.0 407.5 551.7 407.0 552.4 406.8 553.1 406.7 553.8 406.5 554.5 406.1 555.2 406.1 555.9 405.9 556.6 405.9 557.3 405.8 558.0 405.7 558.7 405.6 559.4 405.6 560.1 405.5 560.8 405.3 561.5 405.2 562.2 405.1 562.9 404.8 563.6 404.7 564.3 404.3 565.0 404.1 565.7 403.9 566.4 403.7 567.1 403.8 567.8 403.7 568.5 403.7 569.2 403.9 569.9 403.9 570.6 404.3 571.3 404.4 572.0 404.8 572.7 405.0 573.4 405.6 574.1 405.7 574.8 405.9 575.5 406.1 576.2 406.3 576.9 406.4 577.6 406.6 578.4 406.7 579.1 407.0 579.8 407.4 580.5 408.0 581.2 408.6 581.9 409.3 582.6 410.0 583.3 410.8 584.0 411.4 584.7 411.4 585.4 411.3 586.1 410.7 586.8 409.9 587.5 408.9 588.2 408.0 588.9 407.0 589.6 406.1 590.3 405.2 591.0 404.8 591.7 404.2 592.4 403.7 593.1 403.6 593.8 403.5 594.5 403.3 595.2 403.3 595.9 403.3 596.6 403.5 597.3 403.5 598.0 403.8 598.7 403.8 599.4 404.1 600.1 404.3 600.8 404.5 601.5 404.7 601.5 405.0 602.2 402.7 602.9 400.8 603.6 398.5 603.9 397.8 604.3 400.6 605.0 404.3 605.3 405.7 605.7 409.3 606.4 414.6 607.1 419.9 607.8 425.2 608.5 430.4 609.2 435.9 609.7 439.3 610.0 437.4 610.7 431.8 611.4 426.4 612.1 420.8 612.8 415.4 613.5 409.8 613.5 409.6 614.2 405.8 614.9 401.4 614.9 401.7 615.6 404.2 616.3 406.8 616.7 408.7 617.0 408.4 617.7 407.8 618.4 407.3 619.1 406.8 619.1 406.8 619.8 406.7 620.5 407.0 621.2 406.9 621.9 406.8 622.6 406.8 623.3 406.6 624.0 406.5 624.7 406.5 625.4 406.5 626.1 406.2 626.8 406.4 627.5 406.4 628.2 406.4 628.9 406.4 629.6 406.4 630.3 406.6 631.0 406.8 631.7 407.0 632.4 407.3 633.1 407.5 633.8 408.0 634.5 408.4 635.2 409.0 635.9 409.5 636.6 409.9 637.3 410.2 638.0 410.8 638.7 411.1 639.4 411.6 640.1 411.9 640.9 412.1 641.6 412.2 642.3 412.4 643.0 412.2 643.7 412.3 644.4 412.3 645.1 412.0 645.8 411.7 646.5 411.3 647.2 410.9 647.9 410.7 648.6 410.0 649.3 409.7 650.0 409.3 650.7 408.9 651.4 408.6 652.1 408.2 652.8 407.9 653.5 407.3 654.2 407.1 654.9 406.9 655.6 406.6 656.3 406.5" fill="none" stroke="#000" stroke-width="0.5" stroke-linejoin="round"/>
<path d="M375.4 403.5L376.1 403.6 376.8 403.6 377.5 403.8 378.2 403.9 378.9 403.9 379.6 403.9 380.3 404.2 381.0 404.2 381.7 404.4 382.4 404.3 383.1 404.5 383.8 404.5 384.5 404.7 385.2 404.9 385.9 404.8 386.6 405.2 387.3 405.1 388.0 405.0 388.7 405.2 389.4 405.2 390.1 405.4 390.8 405.6 391.6 406.1 392.3 406.6 393.0 407.0 393.7 407.6 394.4 408.2 395.1 408.5 395.8 408.6 396.5 408.7 397.2 408.3 397.9 408.0 398.6 407.3 399.3 406.5 400.0 406.0 400.7 405.3 401.4 404.6 402.1 403.8 402.8 403.3 403.5 403.0 404.2 402.6 404.9 402.4 405.6 402.1 406.3 402.2 407.0 402.0 407.7 402.0 408.4 402.2 409.1 402.4 409.8 402.7 410.5 402.9 411.2 403.0 411.9 403.3 412.6 403.4 413.3 403.6 413.6 403.6 414.0 402.6 414.7 401.2 415.4 399.6 415.7 399.1 416.1 400.8 416.8 403.2 417.1 404.0 417.5 407.2 418.2 412.0 418.9 416.6 419.6 421.4 420.3 425.9 421.0 430.7 421.7 435.4 421.7 435.4 422.5 429.7 423.2 424.2 423.9 418.4 424.6 412.8 425.3 407.2 425.3 407.1 426.0 403.1 426.7 398.8 426.7 398.8 427.4 401.1 428.1 403.3 428.8 405.3 428.8 405.4 429.5 404.9 430.2 404.5 430.9 403.8 431.1 403.8 431.6 403.6 432.3 403.6 433.0 403.8 433.7 403.7 434.4 403.8 435.1 403.8 435.8 403.7 436.5 403.6 437.2 403.7 437.9 403.6 438.6 403.8 439.3 403.8 440.0 403.7 440.7 403.8 441.4 403.9 442.1 403.9 442.8 403.9 443.5 404.1 444.2 404.2 444.9 404.1 445.6 404.2 446.3 404.3 447.0 404.6 447.7 404.5 448.4 404.7 449.1 404.8 449.8 404.8 450.5 405.1 451.2 405.0 451.9 405.1 452.6 405.1 453.3 405.2 454.1 405.1 454.8 405.1 455.5 405.0 456.2 405.0 456.9 404.8 457.6 404.7 458.3 404.7 459.0 404.7 459.7 404.6 460.4 404.6 461.1 404.4 461.8 404.3 462.5 404.4 463.2 404.1 463.9 404.0 464.6 404.0 465.3 403.9 466.0 403.8 466.7 403.4 467.4 403.4 468.1 403.2 468.8 403.0 469.5 402.6 470.2 402.2 470.9 401.8 471.6 401.5 472.3 401.4 473.0 400.9 473.7 400.7 474.4 400.5 475.1 400.4 475.8 400.4 476.5 400.4 477.2 400.4 477.9 400.6 478.6 400.5 479.3 400.9 480.0 400.9 480.7 401.0 481.4 401.3 482.1 401.7 482.8 402.0 483.5 402.3 484.2 402.6 485.0 403.1 485.7 403.5 486.4 404.0 487.1 404.8 487.8 405.9 488.5 407.0 489.2 408.1 489.9 409.3 490.6 409.9 491.3 410.1 492.0 409.5 492.7 408.6 493.4 407.3 494.1 406.1 494.8 404.8 495.5 404.0 496.2 403.1 496.9 402.5 497.6 402.0 498.3 401.7 499.0 401.5 499.7 401.2 500.4 400.9 501.1 400.8 501.8 400.8 502.5 400.8 503.2 401.0 503.9 401.0 504.6 401.3 505.3 401.4 506.0 401.7 506.7 401.8 507.4 402.2 508.1 402.4 508.8 402.5 508.8 402.5 509.5 403.4 510.2 403.9 510.5 404.4 510.9 397.1 511.6 386.1 511.6 386.2 512.3 399.9 513.0 413.6 513.7 427.5 514.4 441.1 515.1 454.9 515.6 464.0 515.9 458.7 516.6 442.8 517.3 426.9 518.0 411.2 518.7 395.4 519.1 384.8 519.4 388.1 520.1 397.4 520.8 407.1 520.8 407.1 521.5 405.2 522.2 403.4 522.4 402.7 522.9 402.8 523.6 402.8 524.3 402.8 525.0 402.7 525.7 402.7 526.4 402.8 527.1 402.7 527.8 402.7 528.5 402.9 529.2 402.9 529.9 403.1 530.6 403.2 531.3 403.5 532.0 403.6 532.7 403.7 533.4 404.0 534.1 404.2 534.8 404.4 535.5 404.4 536.2 404.8 536.9 405.1 537.6 405.4 538.3 405.7 539.0 406.0 539.7 406.2 540.4 406.7 541.1 406.8 541.8 406.9 542.5 407.2 543.2 407.6 543.9 407.7 544.6 407.7 545.3 407.8 546.0 408.0 546.7 407.8 547.5 407.8 548.2 407.6 548.9 407.1 549.6 407.0 550.3 406.4 551.0 406.2 551.7 405.8 552.4 405.6 553.1 405.3 553.8 405.1 554.5 405.0 555.2 404.9 555.9 404.7 556.6 404.5 557.3 404.5 558.0 404.5 558.7 404.3 559.4 404.3 560.1 404.1 560.8 403.9 561.5 403.8 562.2 403.5 562.9 403.4 563.6 403.0 564.3 402.6 565.0 402.1 565.7 402.0 566.4 401.5 567.1 401.4 567.8 401.0 568.5 401.0 569.2 400.9 569.9 401.0 570.6 401.0 571.3 401.1 572.0 401.5 572.7 401.6 573.4 401.6 574.1 402.0 574.8 402.2 575.5 402.6 576.2 402.7 576.9 402.9 577.6 403.4 578.4 403.5 579.1 404.2 579.8 404.6 580.5 405.3 581.2 406.1 581.9 407.0 582.6 407.9 583.3 408.7 584.0 409.5 584.7 409.8 585.4 409.5 586.1 409.3 586.8 408.5 587.5 407.2 588.2 406.0 588.9 405.1 589.6 404.0 590.3 403.1 591.0 402.5 591.7 401.9 592.4 401.6 593.1 401.2 593.8 400.7 594.5 400.6 595.2 400.3 595.9 400.3 596.6 400.4 597.3 400.4 598.0 400.6 598.7 400.7 599.4 400.9 600.1 401.3 600.8 401.5 601.5 401.6 601.8 401.8 602.2 400.5 602.9 398.4 603.6 396.5 604.1 395.1 604.3 396.2 605.0 400.1 605.5 402.7 605.7 404.6 606.4 410.0 607.1 415.2 607.8 420.6 608.5 425.8 609.2 431.1 610.0 436.6 610.0 436.4 610.7 431.0 611.4 425.4 612.1 419.8 612.8 414.2 613.5 408.8 613.7 407.1 614.2 404.4 614.9 400.1 615.1 398.9 615.6 400.7 616.3 403.2 617.0 405.9 617.0 405.8 617.7 405.4 618.4 404.8 619.1 404.1 619.3 404.1 619.8 404.1 620.5 404.2 621.2 404.3 621.9 404.3 622.6 404.2 623.3 404.1 624.0 404.2 624.7 404.1 625.4 404.2 626.1 404.2 626.8 404.1 627.5 404.1 628.2 404.3 628.9 404.4 629.6 404.5 630.3 404.5 631.0 404.7 631.7 404.9 632.4 405.2 633.1 405.4 633.8 405.5 634.5 405.9 635.2 406.2 635.9 406.6 636.6 406.7 637.3 407.0 638.0 407.4 638.7 407.7 639.4 407.9 640.1 408.0 640.9 408.1 641.6 408.2 642.3 408.4 643.0 408.3 643.7 408.2 644.4 408.0 645.1 407.9 645.8 407.8 646.5 407.7 647.2 407.6 647.9 407.3 648.6 407.1 649.3 407.0 650.0 406.8 650.7 406.5 651.4 406.4 652.1 406.3 652.8 406.1 653.5 405.9 654.2 406.0 654.9 405.8 655.6 405.6 656.3 405.6" fill="none" stroke="#000" stroke-width="0.5" stroke-linejoin="round"/>
<path d="M375.4 405.9L376.1 405.7 376.8 405.6 377.5 405.6 378.2 405.4 378.9 405.2 379.6 405.3 380.3 405.0 381.0 404.8 381.7 404.8 382.4 404.6 383.1 404.4 383.8 404.4 384.5 404.2 385.2 404.1 385.9 404.0 386.6 404.1 387.3 403.9 388.0 404.2 388.7 404.6 389.4 404.7 390.1 405.4 390.8 405.9 391.6 406.7 392.3 407.6 393.0 408.5 393.7 409.4 394.4 410.3 395.1 411.0 395.8 411.7 396.5 411.9 397.2 411.7 397.9 411.3 398.6 410.6 399.3 409.8 400.0 408.8 400.7 408.0 401.4 406.8 402.1 405.9 402.8 405.3 403.5 404.8 404.2 404.2 404.9 403.8 405.6 403.6 406.3 403.4 407.0 403.1 407.7 403.3 408.4 403.2 409.1 403.5 409.8 403.7 410.5 403.9 411.2 404.0 411.9 404.1 412.6 404.5 413.3 404.7 414.0 405.1 414.0 404.9 414.7 403.7 415.4 402.2 416.1 400.7 416.1 400.7 416.8 403.1 417.5 405.6 417.5 405.6 418.2 410.2 418.9 414.6 419.6 419.1 420.3 423.4 421.0 427.6 421.7 432.1 422.2 435.2 422.5 433.3 423.2 428.0 423.9 422.8 424.6 417.7 425.3 412.6 425.7 409.1 426.0 407.7 426.7 403.3 427.1 400.5 427.4 401.3 428.1 403.4 428.8 405.6 429.2 406.9 429.5 406.9 430.2 406.3 430.9 405.6 431.6 405.2 431.6 405.0 432.3 405.0 433.0 404.8 433.7 404.9 434.4 404.9 435.1 404.8 435.8 405.0 436.5 404.8 437.2 404.9 437.9 404.9 438.6 405.1 439.3 405.2 440.0 405.3 440.7 405.2 441.4 405.4 442.1 405.4 442.8 405.7 443.5 405.7 444.2 405.7 444.9 406.0 445.6 405.9 446.3 406.2 447.0 406.2 447.7 406.5 448.4 406.6 449.1 406.7 449.8 406.8 450.5 406.8 451.2 406.8 451.9 406.8 452.6 406.8 453.3 407.0 454.1 406.8 454.8 406.9 455.5 406.8 456.2 406.7 456.9 406.8 457.6 406.7 458.3 406.4 459.0 406.2 459.7 405.9 460.4 405.7 461.1 405.5 461.8 405.4 462.5 404.9 463.2 404.7 463.9 404.3 464.6 404.3 465.3 403.8 466.0 403.6 466.7 403.2 467.4 403.0 468.1 402.6 468.8 402.2 469.5 401.9 470.2 401.8 470.9 401.6 471.6 401.5 472.3 401.5 473.0 401.3 473.7 401.3 474.4 401.4 475.1 401.5 475.8 401.5 476.5 401.7 477.2 402.0 477.9 402.1 478.6 402.6 479.3 402.6 480.0 403.2 480.7 403.5 481.4 403.6 482.1 403.6 482.8 403.9 483.5 404.0 484.2 404.0 485.0 404.2 485.7 404.8 486.4 405.3 487.1 406.1 487.8 407.2 488.5 408.5 489.2 409.9 489.9 411.2 490.6 412.0 491.3 412.0 492.0 411.2 492.7 409.8 493.4 407.9 494.1 406.2 494.8 404.8 495.5 403.7 496.2 402.6 496.9 402.1 497.6 401.5 498.3 401.0 499.0 400.9 499.7 400.6 500.4 400.5 501.1 400.3 501.8 400.1 502.5 400.1 503.2 400.3 503.9 400.4 504.6 400.8 505.3 401.1 506.0 401.4 506.7 401.8 507.4 402.3 508.1 402.6 508.8 403.1 508.8 403.0 509.5 403.8 510.2 404.7 510.5 405.0 510.9 397.8 511.6 386.6 511.6 386.6 512.3 400.7 513.0 415.1 513.7 429.2 514.4 443.3 515.1 457.5 515.6 467.0 515.9 461.7 516.6 445.5 517.3 429.5 518.0 413.3 518.7 397.2 519.1 386.6 519.4 389.6 520.1 399.6 520.8 409.7 520.8 409.7 521.5 407.8 522.2 406.3 522.4 405.7 522.9 405.7 523.6 405.6 524.3 405.9 525.0 405.8 525.7 405.8 526.4 405.8 527.1 406.0 527.8 405.9 528.5 405.9 529.2 406.0 529.9 406.0 530.6 405.9 531.3 405.9 532.0 406.1 532.7 405.9 533.4 406.0 534.1 406.1 534.8 406.1 535.5 406.2 536.2 406.1 536.9 406.3 537.6 406.5 538.3 406.6 539.0 406.8 539.7 407.1 540.4 407.4 541.1 407.5 541.8 407.8 542.5 407.9 543.2 408.3 543.9 408.3 544.6 408.4 545.3 408.6 546.0 408.4 546.7 408.6 547.5 408.4 548.2 408.0 548.9 407.8 549.6 407.4 550.3 407.1 551.0 406.6 551.7 406.3 552.4 406.0 553.1 405.9 553.8 405.7 554.5 405.4 555.2 405.3 555.9 405.3 556.6 405.1 557.3 405.0 558.0 404.9 558.7 404.8 559.4 404.8 560.1 404.5 560.8 404.4 561.5 404.4 562.2 404.2 562.9 403.9 563.6 403.7 564.3 403.1 565.0 402.9 565.7 402.7 566.4 402.3 567.1 402.1 567.8 401.9 568.5 401.7 569.2 401.6 569.9 401.8 570.6 401.8 571.3 401.9 572.0 402.2 572.7 402.4 573.4 402.5 574.1 402.7 574.8 403.1 575.5 403.2 576.2 403.7 576.9 404.0 577.6 404.2 578.4 404.5 579.1 404.7 579.8 405.4 580.5 406.1 581.2 406.9 581.9 407.6 582.6 408.7 583.3 409.4 584.0 410.2 584.7 410.5 585.4 410.4 586.1 409.8 586.8 409.1 587.5 408.1 588.2 407.0 588.9 406.1 589.6 405.3 590.3 404.4 591.0 403.8 591.7 403.4 592.4 403.1 593.1 402.7 593.8 402.7 594.5 402.7 595.2 402.4 595.9 402.5 596.6 402.7 597.3 402.7 598.0 402.9 598.7 403.2 599.4 403.4 600.1 403.6 600.8 404.0 601.1 404.1 601.5 402.6 602.2 400.8 602.9 398.6 603.4 397.3 603.6 398.6 604.3 402.4 604.8 405.2 605.0 406.9 605.7 412.7 606.4 418.3 607.1 424.0 607.8 429.7 608.5 435.4 609.2 441.1 609.2 440.9 610.0 434.8 610.7 428.8 611.4 422.7 612.1 416.4 612.8 410.4 613.0 408.4 613.5 405.6 614.2 401.2 614.4 399.7 614.9 401.5 615.6 403.8 616.3 406.3 616.3 406.3 617.0 405.7 617.7 404.7 618.4 404.2 618.6 403.9 619.1 403.7 619.8 403.5 620.5 403.4 621.2 403.3 621.9 403.3 622.6 403.4 623.3 403.4 624.0 403.5 624.7 403.6 625.4 403.9 626.1 404.0 626.8 404.0 627.5 404.2 628.2 404.3 628.9 404.4 629.6 404.7 630.3 404.8 631.0 405.0 631.7 405.6 632.4 405.8 633.1 405.9 633.8 406.4 634.5 406.6 635.2 407.0 635.9 407.2 636.6 407.5 637.3 407.7 638.0 407.9 638.7 408.2 639.4 408.6 640.1 408.6 640.9 408.7 641.6 408.9 642.3 408.9 643.0 408.8 643.7 408.8 644.4 408.9 645.1 408.6 645.8 408.6 646.5 408.5 647.2 408.1 647.9 407.9 648.6 407.8 649.3 407.5 650.0 407.4 650.7 407.3 651.4 407.1 652.1 406.8 652.8 406.7 653.5 406.4 654.2 406.2 654.9 406.2 655.6 406.0 656.3 406.2" fill="none" stroke="#000" stroke-width="0.5" stroke-linejoin="round"/>
<path d="M375.4 404.9L376.1 404.9 376.8 404.8 377.5 404.9 378.2 405.0 378.9 405.2 379.6 405.2 380.3 405.3 381.0 405.5 381.7 405.6 382.4 405.5 383.1 405.5 383.8 405.8 384.5 406.0 385.2 405.9 385.9 406.1 386.6 406.3 387.3 406.1 388.0 406.3 388.7 406.4 389.4 406.4 390.1 406.7 390.8 407.1 391.6 407.8 392.3 408.3 393.0 409.2 393.7 410.0 394.4 410.5 395.1 411.3 395.8 411.5 396.5 411.6 397.2 411.2 397.9 410.6 398.6 409.9 399.3 408.7 400.0 407.9 400.7 406.8 401.4 406.0 402.1 405.2 402.8 404.5 403.5 404.1 404.2 403.6 404.9 403.2 405.6 403.0 406.3 402.8 407.0 402.7 407.7 402.5 408.4 402.8 409.1 402.9 409.8 403.2 410.5 403.3 411.2 403.4 411.9 403.8 412.6 404.1 413.3 404.3 414.0 404.6 414.3 404.6 414.7 403.7 415.4 402.4 416.1 401.0 416.4 400.4 416.8 402.1 417.5 404.5 417.8 405.3 418.2 408.8 418.9 413.7 419.6 418.6 420.3 423.6 421.0 428.6 421.7 433.3 422.5 438.3 422.5 438.3 423.2 432.5 423.9 426.6 424.6 420.7 425.3 414.9 426.0 409.1 426.0 409.3 426.7 405.1 427.4 400.9 427.4 400.8 428.1 403.2 428.8 405.2 429.5 407.4 429.5 407.5 430.2 406.9 430.9 406.5 431.6 405.8 431.8 405.8 432.3 405.8 433.0 405.7 433.7 405.8 434.4 405.8 435.1 406.0 435.8 406.0 436.5 406.2 437.2 406.3 437.9 406.3 438.6 406.4 439.3 406.6 440.0 406.7 440.7 407.0 441.4 407.3 442.1 407.3 442.8 407.6 443.5 407.9 444.2 408.0 444.9 408.1 445.6 408.5 446.3 408.6 447.0 408.8 447.7 408.9 448.4 408.9 449.1 409.0 449.8 408.9 450.5 409.0 451.2 408.9 451.9 408.8 452.6 408.8 453.3 408.4 454.1 408.4 454.8 408.0 455.5 407.8 456.2 407.5 456.9 407.3 457.6 407.1 458.3 406.8 459.0 406.7 459.7 406.5 460.4 406.2 461.1 406.0 461.8 405.8 462.5 405.5 463.2 405.4 463.9 405.1 464.6 405.0 465.3 404.7 466.0 404.6 466.7 404.4 467.4 404.2 468.1 403.8 468.8 403.4 469.5 403.3 470.2 403.1 470.9 402.8 471.6 402.8 472.3 402.5 473.0 402.4 473.7 402.4 474.4 402.4 475.1 402.5 475.8 402.6 476.5 402.8 477.2 403.0 477.9 403.1 478.6 403.3 479.3 403.5 480.0 404.0 480.7 404.2 481.4 404.5 482.1 404.7 482.8 404.8 483.5 405.1 484.2 405.3 485.0 405.5 485.7 406.0 486.4 406.5 487.1 407.3 487.8 408.1 488.5 409.1 489.2 410.4 489.9 411.2 490.6 411.9 491.3 411.8 492.0 411.4 492.7 410.3 493.4 409.1 494.1 407.7 494.8 406.7 495.5 405.7 496.2 404.9 496.9 404.4 497.6 403.8 498.3 403.5 499.0 403.1 499.7 403.0 500.4 402.8 501.1 402.8 501.8 402.6 502.5 402.7 503.2 402.7 503.9 402.9 504.6 403.0 505.3 403.3 506.0 403.6 506.7 404.1 507.4 404.1 508.1 404.4 508.8 404.8 508.8 404.7 509.5 405.5 510.2 406.4 510.5 406.7 510.9 399.0 511.6 387.4 511.6 387.3 512.3 400.6 513.0 413.8 513.7 426.8 514.4 440.1 515.1 453.2 515.6 462.1 515.9 456.9 516.6 441.9 517.3 426.8 518.0 411.5 518.7 396.5 519.1 386.4 519.4 389.8 520.1 400.0 520.8 410.3 520.8 410.3 521.5 408.4 522.2 406.8 522.4 406.3 522.9 406.0 523.6 406.1 524.3 406.1 525.0 406.3 525.7 406.3 526.4 406.2 527.1 406.4 527.8 406.3 528.5 406.1 529.2 406.1 529.9 406.0 530.6 405.9 531.3 406.1 532.0 406.0 532.7 405.9 533.4 405.7 534.1 405.7 534.8 405.9 535.5 405.8 536.2 405.9 536.9 405.9 537.6 405.9 538.3 406.1 539.0 406.3 539.7 406.6 540.4 406.7 541.1 407.0 541.8 407.4 542.5 407.7 543.2 407.9 543.9 408.1 544.6 408.3 545.3 408.4 546.0 408.5 546.7 408.2 547.5 408.2 548.2 408.2 548.9 407.7 549.6 407.6 550.3 407.1 551.0 406.8 551.7 406.6 552.4 406.5 553.1 406.2 553.8 406.2 554.5 406.0 555.2 406.1 555.9 406.1 556.6 405.9 557.3 405.8 558.0 405.9 558.7 406.0 559.4 406.0 560.1 406.0 560.8 405.9 561.5 405.9 562.2 405.8 562.9 405.5 563.6 405.2 564.3 404.9 565.0 404.5 565.7 404.0 566.4 403.8 567.1 403.4 567.8 403.3 568.5 403.0 569.2 403.0 569.9 402.8 570.6 403.1 571.3 403.0 572.0 403.3 572.7 403.5 573.4 403.6 574.1 403.6 574.8 404.0 575.5 404.4 576.2 404.5 576.9 405.0 577.6 405.1 578.4 405.5 579.1 406.0 579.8 406.6 580.5 407.6 581.2 408.6 581.9 409.7 582.6 410.9 583.3 412.2 584.0 412.9 584.7 413.3 585.4 413.2 586.1 412.8 586.8 411.7 587.5 410.4 588.2 409.1 588.9 407.7 589.6 406.6 590.3 405.6 591.0 404.7 591.7 404.1 592.4 403.8 593.1 403.2 593.8 403.2 594.5 403.0 595.2 402.9 595.9 402.6 596.6 402.8 597.3 403.0 598.0 403.0 598.7 403.1 599.4 403.4 600.1 403.6 600.8 403.7 601.5 403.9 601.8 403.9 602.2 402.4 602.9 400.3 603.6 398.3 604.1 396.9 604.3 398.2 605.0 401.9 605.5 404.5 605.7 406.1 606.4 410.8 607.1 415.7 607.8 420.5 608.5 425.2 609.2 430.1 610.0 434.7 610.0 434.7 610.7 429.9 611.4 424.9 612.1 420.0 612.8 415.1 613.5 410.2 613.7 408.5 614.2 405.8 614.9 401.6 615.1 400.3 615.6 402.0 616.3 404.7 617.0 407.5 617.0 407.5 617.7 406.8 618.4 406.5 619.1 406.0 619.3 405.8 619.8 405.7 620.5 405.7 621.2 405.9 621.9 405.8 622.6 405.9 623.3 405.6 624.0 405.8 624.7 405.7 625.4 405.7 626.1 405.5 626.8 405.7 627.5 405.5 628.2 405.7 628.9 405.6 629.6 405.7 630.3 405.9 631.0 405.9 631.7 406.0 632.4 406.3 633.1 406.5 633.8 407.0 634.5 407.4 635.2 407.9 635.9 408.1 636.6 408.7 637.3 409.0 638.0 409.3 638.7 409.7 639.4 409.9 640.1 410.4 640.9 410.5 641.6 410.7 642.3 411.0 643.0 411.0 643.7 411.2 644.4 411.0 645.1 411.0 645.8 410.5 646.5 410.5 647.2 410.1 647.9 409.8 648.6 409.5 649.3 409.1 650.0 408.8 650.7 408.5 651.4 408.1 652.1 407.8 652.8 407.5 653.5 407.2 654.2 407.0 654.9 406.9 655.6 406.8 656.3 406.6" fill="none" stroke="#000" stroke-width="0.5" stroke-linejoin="round"/>
<path d="M375.4 405.5L376.1 405.5 376.8 405.3 377.5 405.4 378.2 405.4 378.9 405.2 379.6 405.1 380.3 405.1 381.0 405.0 381.7 404.9 382.4 404.7 383.1 404.6 383.8 404.6 384.5 404.4 385.2 404.5 385.9 404.3 386.6 404.3 387.3 404.2 388.0 404.4 388.7 404.6 389.4 404.8 390.1 405.0 390.8 405.4 391.6 406.1 392.3 406.5 393.0 407.3 393.7 407.9 394.4 408.5 395.1 409.0 395.8 409.6 396.5 409.6 397.2 409.6 397.9 409.2 398.6 408.6 399.3 407.9 400.0 407.2 400.7 406.2 401.4 405.4 402.1 404.7 402.8 404.1 403.5 403.6 404.2 403.3 404.9 402.9 405.6 402.8 406.3 402.4 407.0 402.4 407.7 402.2 408.4 402.4 409.1 402.4 409.8 402.5 410.5 402.8 411.2 403.1 411.9 403.2 412.6 403.5 413.3 404.0 413.8 404.0 414.0 403.6 414.7 402.3 415.4 401.0 415.9 399.9 416.1 400.8 416.8 403.4 417.3 405.0 417.5 405.4 418.2 406.2 418.9 407.0 419.6 407.8 420.3 408.7 421.0 409.7 421.7 410.5 422.0 410.8 422.5 410.4 423.2 410.0 423.9 409.7 424.6 409.4 425.3 408.9 425.5 408.7 426.0 405.9 426.7 401.8 426.9 400.6 427.4 401.8 428.1 404.0 428.8 406.1 429.0 407.0 429.5 406.5 430.2 405.9 430.9 405.4 431.3 405.1 431.6 405.1 432.3 405.1 433.0 405.0 433.7 405.0 434.4 405.0 435.1 405.1 435.8 405.0 436.5 405.2 437.2 405.2 437.9 405.3 438.6 405.3 439.3 405.5 440.0 405.4 440.7 405.7 441.4 405.8 442.1 405.9 442.8 405.9 443.5 406.1 444.2 406.3 444.9 406.5 445.6 406.5 446.3 406.7 447.0 406.8 447.7 406.9 448.4 407.0 449.1 407.0 449.8 407.3 450.5 407.3 451.2 407.2 451.9 407.3 452.6 407.2 453.3 407.4 454.1 407.2 454.8 407.2 455.5 407.2 456.2 407.0 456.9 407.2 457.6 407.0 458.3 406.7 459.0 406.7 459.7 406.5 460.4 406.1 461.1 406.0 461.8 405.7 462.5 405.6 463.2 405.4 463.9 405.0 464.6 404.8 465.3 404.4 466.0 404.1 466.7 403.8 467.4 403.6 468.1 403.2 468.8 402.9 469.5 402.6 470.2 402.4 470.9 402.2 471.6 402.0 472.3 401.7 473.0 401.8 473.7 401.6 474.4 401.7 475.1 401.6 475.8 401.8 476.5 401.9 477.2 402.2 477.9 402.2 478.6 402.6 479.3 402.8 480.0 403.1 480.7 403.4 481.4 403.7 482.1 403.9 482.8 404.0 483.5 404.2 484.2 404.4 485.0 404.7 485.7 405.2 486.4 405.5 487.1 406.3 487.8 407.4 488.5 408.3 489.2 409.4 489.9 410.5 490.6 410.9 491.3 411.0 492.0 410.5 492.7 409.5 493.4 408.1 494.1 406.8 494.8 405.6 495.5 404.8 496.2 404.2 496.9 403.4 497.6 403.1 498.3 402.7 499.0 402.4 499.7 402.2 500.4 401.9 501.1 401.8 501.8 401.7 502.5 401.8 503.2 401.9 503.9 402.0 504.6 402.1 505.3 402.6 506.0 402.9 506.7 403.2 507.4 403.3 508.1 403.5 508.8 403.9 508.8 404.0 509.5 404.7 510.2 405.4 510.5 405.6 510.9 399.0 511.6 389.0 511.6 388.9 512.3 400.1 513.0 411.1 513.7 422.2 514.4 432.9 515.1 443.9 515.6 451.3 515.9 447.1 516.6 434.8 517.3 422.4 518.0 410.1 518.7 397.8 519.1 389.6 519.4 392.5 520.1 400.9 520.8 409.3 520.8 409.2 521.5 407.6 522.2 405.7 522.4 405.2 522.9 405.3 523.6 405.3 524.3 405.2 525.0 405.3 525.7 405.4 526.4 405.5 527.1 405.5 527.8 405.5 528.5 405.2 529.2 405.2 529.9 405.1 530.6 405.2 531.3 405.0 532.0 405.0 532.7 404.8 533.4 404.9 534.1 404.9 534.8 404.7 535.5 404.9 536.2 405.0 536.9 404.9 537.6 405.0 538.3 405.4 539.0 405.6 539.7 406.0 540.4 406.3 541.1 406.7 541.8 407.2 542.5 407.7 543.2 408.0 543.9 408.3 544.6 408.6 545.3 408.7 546.0 408.7 546.7 408.8 547.5 408.4 548.2 408.4 548.9 408.0 549.6 407.6 550.3 406.9 551.0 406.6 551.7 406.2 552.4 405.8 553.1 405.3 553.8 405.2 554.5 404.7 555.2 404.7 555.9 404.3 556.6 404.2 557.3 404.2 558.0 404.2 558.7 404.1 559.4 404.0 560.1 403.8 560.8 403.7 561.5 403.6 562.2 403.5 562.9 403.1 563.6 402.9 564.3 402.5 565.0 402.1 565.7 401.8 566.4 401.7 567.1 401.4 567.8 401.2 568.5 401.1 569.2 401.2 569.9 401.2 570.6 401.5 571.3 401.5 572.0 401.6 572.7 401.8 573.4 402.2 574.1 402.3 574.8 402.6 575.5 402.7 576.2 403.0 576.9 403.3 577.6 403.4 578.4 403.7 579.1 404.0 579.8 404.7 580.5 405.2 581.2 405.7 581.9 406.6 582.6 407.5 583.3 408.3 584.0 408.8 584.7 409.1 585.4 409.1 586.1 408.5 586.8 407.8 587.5 406.9 588.2 406.1 588.9 405.1 589.6 404.4 590.3 404.0 591.0 403.5 591.7 402.9 592.4 402.7 593.1 402.7 593.8 402.7 594.5 402.5 595.2 402.7 595.9 402.7 596.6 403.0 597.3 403.4 598.0 403.5 598.7 403.6 599.4 403.9 600.1 403.8 600.8 404.1 601.3 404.2 601.5 403.4 602.2 401.2 602.9 398.9 603.6 396.9 603.6 396.8 604.3 400.6 605.0 404.4 605.0 404.6 605.7 405.3 606.4 405.9 607.1 406.7 607.8 407.5 608.5 408.2 609.2 409.0 609.5 409.1 610.0 408.9 610.7 408.5 611.4 408.2 612.1 408.0 612.8 407.4 613.2 407.2 613.5 405.8 614.2 401.6 614.6 398.8 614.9 399.7 615.6 402.4 616.3 405.0 616.5 405.7 617.0 405.2 617.7 404.6 618.4 403.9 618.8 403.5 619.1 403.4 619.8 403.5 620.5 403.5 621.2 403.4 621.9 403.6 622.6 403.5 623.3 403.7 624.0 404.0 624.7 404.2 625.4 404.2 626.1 404.5 626.8 404.6 627.5 405.0 628.2 405.1 628.9 405.4 629.6 405.6 630.3 406.1 631.0 406.4 631.7 406.6 632.4 406.9 633.1 407.4 633.8 407.5 634.5 407.6 635.2 408.0 635.9 408.1 636.6 408.5 637.3 408.7 638.0 408.6 638.7 408.9 639.4 409.1 640.1 409.2 640.9 409.3 641.6 409.1 642.3 409.2 643.0 409.0 643.7 408.9 644.4 408.5 645.1 408.5 645.8 408.4 646.5 408.1 647.2 407.8 647.9 407.5 648.6 407.4 649.3 407.2 650.0 406.8 650.7 406.7 651.4 406.4 652.1 406.2 652.8 405.8 653.5 405.7 654.2 405.5 654.9 405.5 655.6 405.3 656.3 405.0" fill="none" stroke="#000" stroke-width="0.5" stroke-linejoin="round"/>
<path d="M375.4 405.0L376.1 404.9 376.8 404.8 377.5 404.8 378.2 404.8 378.9 404.9 379.6 404.9 380.3 404.8 381.0 404.9 381.7 404.9 382.4 404.7 383.1 404.8 383.8 405.0 384.5 404.9 385.2 405.0 385.9 404.9 386.6 405.0 387.3 404.8 388.0 404.9 388.7 405.0 389.4 405.1 390.1 405.2 390.8 405.6 391.6 406.0 392.3 406.5 393.0 407.0 393.7 407.6 394.4 408.1 395.1 408.5 395.8 408.6 396.5 408.7 397.2 408.5 397.9 407.9 398.6 407.2 399.3 406.5 400.0 405.8 400.7 404.9 401.4 404.3 402.1 403.5 402.8 403.0 403.5 402.5 404.2 402.1 404.9 401.5 405.6 401.4 406.3 401.0 407.0 400.9 407.7 401.1 408.4 401.0 409.1 401.2 409.8 401.3 410.5 401.4 411.2 401.8 411.9 402.0 412.6 402.3 413.3 402.8 413.3 402.6 414.0 401.5 414.7 400.0 415.4 398.5 415.4 398.6 416.1 401.1 416.8 403.6 416.8 403.8 417.5 408.0 418.2 412.0 418.9 416.2 419.6 420.1 420.3 424.4 421.0 428.5 421.5 431.1 421.7 429.7 422.5 424.9 423.2 420.4 423.9 415.7 424.6 411.1 425.0 407.8 425.3 406.6 426.0 402.5 426.4 399.8 426.7 400.3 427.4 402.5 428.1 404.8 428.5 406.3 428.8 406.1 429.5 405.6 430.2 405.2 430.9 404.7 430.9 404.7 431.6 404.6 432.3 404.7 433.0 404.7 433.7 404.5 434.4 404.6 435.1 404.6 435.8 404.5 436.5 404.4 437.2 404.4 437.9 404.3 438.6 404.5 439.3 404.4 440.0 404.4 440.7 404.3 441.4 404.5 442.1 404.3 442.8 404.3 443.5 404.5 444.2 404.5 444.9 404.5 445.6 404.5 446.3 404.7 447.0 405.0 447.7 404.9 448.4 405.1 449.1 405.2 449.8 405.3 450.5 405.6 451.2 405.7 451.9 405.7 452.6 405.8 453.3 405.8 454.1 405.7 454.8 405.8 455.5 405.7 456.2 405.6 456.9 405.6 457.6 405.6 458.3 405.3 459.0 405.3 459.7 405.0 460.4 404.9 461.1 404.7 461.8 404.6 462.5 404.3 463.2 404.1 463.9 404.1 464.6 403.7 465.3 403.5 466.0 403.3 466.7 403.0 467.4 402.8 468.1 402.5 468.8 402.1 469.5 401.8 470.2 401.6 470.9 401.4 471.6 401.2 472.3 400.9 473.0 401.0 473.7 400.9 474.4 400.7 475.1 400.8 475.8 401.0 476.5 400.9 477.2 401.1 477.9 401.4 478.6 401.6 479.3 401.9 480.0 402.0 480.7 402.5 481.4 402.4 482.1 402.8 482.8 402.8 483.5 403.0 484.2 403.0 485.0 403.2 485.7 403.5 486.4 403.9 487.1 404.7 487.8 405.3 488.5 406.5 489.2 407.4 489.9 408.3 490.6 408.7 491.3 408.6 492.0 408.1 492.7 407.1 493.4 405.9 494.1 404.6 494.8 403.4 495.5 402.4 496.2 401.6 496.9 401.2 497.6 400.7 498.3 400.3 499.0 400.3 499.7 400.1 500.4 399.7 501.1 399.6 501.8 399.6 502.5 399.8 503.2 399.9 503.9 399.9 504.6 400.3 505.3 400.4 506.0 400.8 506.7 401.1 507.4 401.2 508.1 401.5 508.8 401.7 508.8 401.7 509.5 402.6 510.2 403.3 510.5 403.7 510.9 396.6 511.6 385.8 511.6 385.8 512.3 398.5 513.0 411.0 513.7 423.7 514.4 436.0 515.1 448.5 515.6 457.0 515.9 452.0 516.6 437.8 517.3 423.4 518.0 409.1 518.7 394.6 519.1 385.0 519.4 388.3 520.1 397.7 520.8 407.3 520.8 407.3 521.5 405.5 522.2 403.7 522.4 403.2 522.9 403.2 523.6 403.5 524.3 403.6 525.0 403.6 525.7 403.7 526.4 403.6 527.1 403.7 527.8 403.8 528.5 403.7 529.2 403.8 529.9 404.0 530.6 403.8 531.3 403.7 532.0 403.9 532.7 403.9 533.4 403.9 534.1 403.9 534.8 404.1 535.5 404.2 536.2 404.2 536.9 404.4 537.6 404.6 538.3 404.6 539.0 405.1 539.7 405.3 540.4 405.6 541.1 405.7 541.8 406.1 542.5 406.3 543.2 406.5 543.9 406.7 544.6 406.9 545.3 407.0 546.0 407.2 546.7 407.0 547.5 407.1 548.2 407.0 548.9 406.5 549.6 406.4 550.3 406.2 551.0 405.7 551.7 405.6 552.4 405.3 553.1 405.0 553.8 404.9 554.5 404.6 555.2 404.4 555.9 404.3 556.6 404.2 557.3 404.3 558.0 404.2 558.7 404.2 559.4 404.0 560.1 404.1 560.8 403.8 561.5 403.7 562.2 403.5 562.9 403.2 563.6 403.0 564.3 402.6 565.0 402.0 565.7 401.9 566.4 401.4 567.1 401.1 567.8 400.8 568.5 400.6 569.2 400.6 569.9 400.7 570.6 400.7 571.3 400.6 572.0 401.0 572.7 401.0 573.4 401.1 574.1 401.3 574.8 401.7 575.5 401.8 576.2 402.2 576.9 402.4 577.6 402.8 578.4 403.1 579.1 403.7 579.8 404.3 580.5 405.0 581.2 405.8 581.9 406.8 582.6 407.7 583.3 408.6 584.0 409.4 584.7 409.9 585.4 409.8 586.1 409.5 586.8 408.5 587.5 407.4 588.2 406.3 588.9 405.0 589.6 404.0 590.3 403.2 591.0 402.6 591.7 401.8 592.4 401.4 593.1 401.0 593.8 400.6 594.5 400.6 595.2 400.3 595.9 400.3 596.6 400.4 597.3 400.4 598.0 400.4 598.7 400.5 599.4 401.0 600.1 401.3 600.8 401.4 601.5 401.6 601.5 401.8 602.2 399.7 602.9 397.6 603.6 395.5 603.9 394.9 604.3 397.5 605.0 401.4 605.3 402.6 605.7 405.9 606.4 410.9 607.1 415.6 607.8 420.6 608.5 425.5 609.2 430.1 609.7 433.5 610.0 431.7 610.7 426.8 611.4 422.0 612.1 417.1 612.8 412.1 613.5 407.2 613.5 407.0 614.2 402.9 614.9 399.0 614.9 399.0 615.6 401.8 616.3 404.4 616.7 406.1 617.0 405.8 617.7 405.5 618.4 405.0 619.1 404.4 619.1 404.5 619.8 404.3 620.5 404.5 621.2 404.7 621.9 404.5 622.6 404.5 623.3 404.5 624.0 404.2 624.7 404.2 625.4 404.1 626.1 404.1 626.8 404.3 627.5 404.1 628.2 404.3 628.9 404.3 629.6 404.5 630.3 404.6 631.0 404.7 631.7 404.9 632.4 405.0 633.1 405.2 633.8 405.6 634.5 406.2 635.2 406.6 635.9 407.0 636.6 407.4 637.3 407.7 638.0 408.2 638.7 408.3 639.4 408.7 640.1 408.8 640.9 409.1 641.6 409.3 642.3 409.2 643.0 409.3 643.7 409.2 644.4 409.1 645.1 408.9 645.8 408.8 646.5 408.5 647.2 408.3 647.9 408.1 648.6 407.9 649.3 407.3 650.0 407.2 650.7 406.8 651.4 406.5 652.1 406.2 652.8 406.0 653.5 405.8 654.2 405.7 654.9 405.5 655.6 405.3 656.3 405.3" fill="none" stroke="#000" stroke-width="0.5" stroke-linejoin="round"/>
<path d="M375.4 405.2L376.1 405.4 376.8 405.5 377.5 405.5 378.2 405.5 378.9 405.4 379.6 405.4 380.3 405.6 381.0 405.6 381.7 405.7 382.4 405.6 383.1 405.6 383.8 405.7 384.5 405.6 385.2 405.9 385.9 405.8 386.6 405.7 387.3 405.8 388.0 406.0 388.7 406.2 389.4 406.3 390.1 406.7 390.8 407.1 391.6 407.6 392.3 408.0 393.0 408.8 393.7 409.3 394.4 410.1 395.1 410.5 395.8 410.8 396.5 410.8 397.2 410.8 397.9 410.4 398.6 410.0 399.3 409.1 400.0 408.3 400.7 407.4 401.4 406.6 402.1 406.0 402.8 405.3 403.5 404.7 404.2 404.3 404.9 404.0 405.6 403.6 406.3 403.5 407.0 403.3 407.7 403.4 408.4 403.2 409.1 403.3 409.8 403.4 410.5 403.6 411.2 404.0 411.9 404.2 412.6 404.4 413.3 404.7 414.0 404.8 414.0 404.8 414.7 403.5 415.4 402.0 416.1 400.4 416.1 400.5 416.8 402.9 417.5 405.3 417.5 405.5 418.2 410.0 418.9 414.7 419.6 419.2 420.3 423.8 421.0 428.4 421.7 433.0 422.2 436.0 422.5 434.3 423.2 429.0 423.9 423.4 424.6 418.0 425.3 412.7 425.7 409.0 426.0 407.8 426.7 403.8 427.1 400.9 427.4 401.7 428.1 403.8 428.8 406.0 429.2 407.5 429.5 407.5 430.2 406.8 430.9 406.4 431.6 406.0 431.6 405.9 432.3 406.1 433.0 405.9 433.7 406.0 434.4 406.3 435.1 406.3 435.8 406.4 436.5 406.5 437.2 406.7 437.9 406.6 438.6 406.8 439.3 407.1 440.0 407.2 440.7 407.4 441.4 407.6 442.1 407.6 442.8 407.9 443.5 408.1 444.2 408.3 444.9 408.4 445.6 408.7 446.3 408.7 447.0 408.6 447.7 408.8 448.4 409.0 449.1 409.0 449.8 408.9 450.5 409.1 451.2 408.9 451.9 409.1 452.6 408.9 453.3 409.0 454.1 408.8 454.8 408.8 455.5 408.6 456.2 408.6 456.9 408.3 457.6 408.2 458.3 408.0 459.0 407.8 459.7 407.7 460.4 407.5 461.1 407.3 461.8 407.2 462.5 406.9 463.2 406.8 463.9 406.4 464.6 406.2 465.3 405.9 466.0 405.5 466.7 405.3 467.4 404.9 468.1 404.7 468.8 404.3 469.5 404.0 470.2 404.0 470.9 403.6 471.6 403.4 472.3 403.3 473.0 403.4 473.7 403.3 474.4 403.3 475.1 403.4 475.8 403.4 476.5 403.6 477.2 403.7 477.9 404.1 478.6 404.2 479.3 404.4 480.0 404.7 480.7 405.2 481.4 405.1 482.1 405.5 482.8 405.5 483.5 405.5 484.2 405.9 485.0 405.8 485.7 406.1 486.4 406.7 487.1 407.3 487.8 408.2 488.5 409.0 489.2 410.1 489.9 411.0 490.6 411.5 491.3 411.5 492.0 410.7 492.7 409.7 493.4 408.6 494.1 407.4 494.8 406.3 495.5 405.5 496.2 404.7 496.9 404.3 497.6 403.9 498.3 403.6 499.0 403.5 499.7 403.2 500.4 403.0 501.1 403.1 501.8 402.9 502.5 403.1 503.2 403.3 503.9 403.5 504.6 403.6 505.3 403.8 506.0 404.3 506.7 404.4 507.4 404.5 508.1 404.7 508.8 405.1 508.8 405.0 509.5 405.7 510.2 406.4 510.5 406.6 510.9 398.6 511.6 386.4 511.6 386.5 512.3 401.1 513.0 416.0 513.7 430.5 514.4 445.2 515.1 459.6 515.6 469.4 515.9 463.9 516.6 447.0 517.3 430.3 518.0 413.4 518.7 396.6 519.1 385.2 519.4 388.6 520.1 399.4 520.8 409.8 520.8 409.8 521.5 407.9 522.2 406.1 522.4 405.7 522.9 405.6 523.6 405.6 524.3 405.7 525.0 405.7 525.7 405.6 526.4 405.9 527.1 405.8 527.8 405.9 528.5 405.7 529.2 405.7 529.9 405.8 530.6 405.8 531.3 405.6 532.0 405.7 532.7 405.6 533.4 405.8 534.1 405.5 534.8 405.6 535.5 405.8 536.2 405.7 536.9 406.0 537.6 406.2 538.3 406.2 539.0 406.3 539.7 406.8 540.4 407.1 541.1 407.4 541.8 407.8 542.5 407.9 543.2 408.3 543.9 408.7 544.6 408.7 545.3 408.9 546.0 409.1 546.7 409.1 547.5 409.1 548.2 408.7 548.9 408.8 549.6 408.4 550.3 408.0 551.0 408.0 551.7 407.4 552.4 407.3 553.1 406.8 553.8 406.6 554.5 406.3 555.2 406.1 555.9 406.0 556.6 405.8 557.3 405.6 558.0 405.6 558.7 405.5 559.4 405.4 560.1 405.1 560.8 404.9 561.5 404.9 562.2 404.6 562.9 404.3 563.6 404.0 564.3 403.8 565.0 403.6 565.7 403.3 566.4 403.2 567.1 402.9 567.8 402.7 568.5 402.6 569.2 402.7 569.9 402.9 570.6 403.3 571.3 403.4 572.0 403.7 572.7 403.9 573.4 404.1 574.1 404.5 574.8 404.7 575.5 404.9 576.2 405.3 576.9 405.5 577.6 405.7 578.4 406.2 579.1 406.4 579.8 407.0 580.5 407.7 581.2 408.3 581.9 409.2 582.6 410.0 583.3 410.9 584.0 411.5 584.7 411.9 585.4 411.7 586.1 411.1 586.8 410.4 587.5 409.3 588.2 408.2 588.9 407.1 589.6 406.2 590.3 405.4 591.0 404.7 591.7 404.1 592.4 403.6 593.1 403.5 593.8 403.0 594.5 402.8 595.2 402.9 595.9 402.9 596.6 402.9 597.3 402.8 598.0 403.1 598.7 403.2 599.4 403.5 600.1 403.8 600.8 404.0 600.8 404.1 601.5 402.2 602.2 400.1 602.9 398.0 603.2 397.4 603.6 400.0 604.3 403.9 604.6 405.4 605.0 408.6 605.7 414.0 606.4 419.0 607.1 424.0 607.8 429.1 608.5 434.4 609.0 437.6 609.2 436.0 610.0 430.7 610.7 425.3 611.4 420.1 612.1 414.7 612.8 409.2 612.8 409.2 613.5 405.2 614.2 401.2 614.2 401.1 614.9 403.7 615.6 406.1 616.0 407.9 616.3 407.8 617.0 407.0 617.7 406.5 618.4 406.0 618.4 405.8 619.1 406.0 619.8 405.9 620.5 406.1 621.2 406.0 621.9 405.9 622.6 406.0 623.3 406.1 624.0 406.1 624.7 406.2 625.4 406.4 626.1 406.5 626.8 406.5 627.5 406.7 628.2 406.7 628.9 407.0 629.6 407.3 630.3 407.5 631.0 407.7 631.7 408.0 632.4 408.2 633.1 408.3 633.8 408.6 634.5 408.8 635.2 409.0 635.9 409.3 636.6 409.4 637.3 409.4 638.0 409.6 638.7 409.8 639.4 410.0 640.1 410.0 640.9 410.0 641.6 410.0 642.3 410.0 643.0 409.7 643.7 409.5 644.4 409.4 645.1 409.1 645.8 409.1 646.5 409.1 647.2 408.8 647.9 408.8 648.6 408.4 649.3 408.2 650.0 408.0 650.7 407.9 651.4 407.8 652.1 407.6 652.8 407.3 653.5 407.3 654.2 407.1 654.9 406.9 655.6 406.9 656.3 406.9" fill="none" stroke="#000" stroke-width="0.5" stroke-linejoin="round"/>
</svg>
</body></html>
